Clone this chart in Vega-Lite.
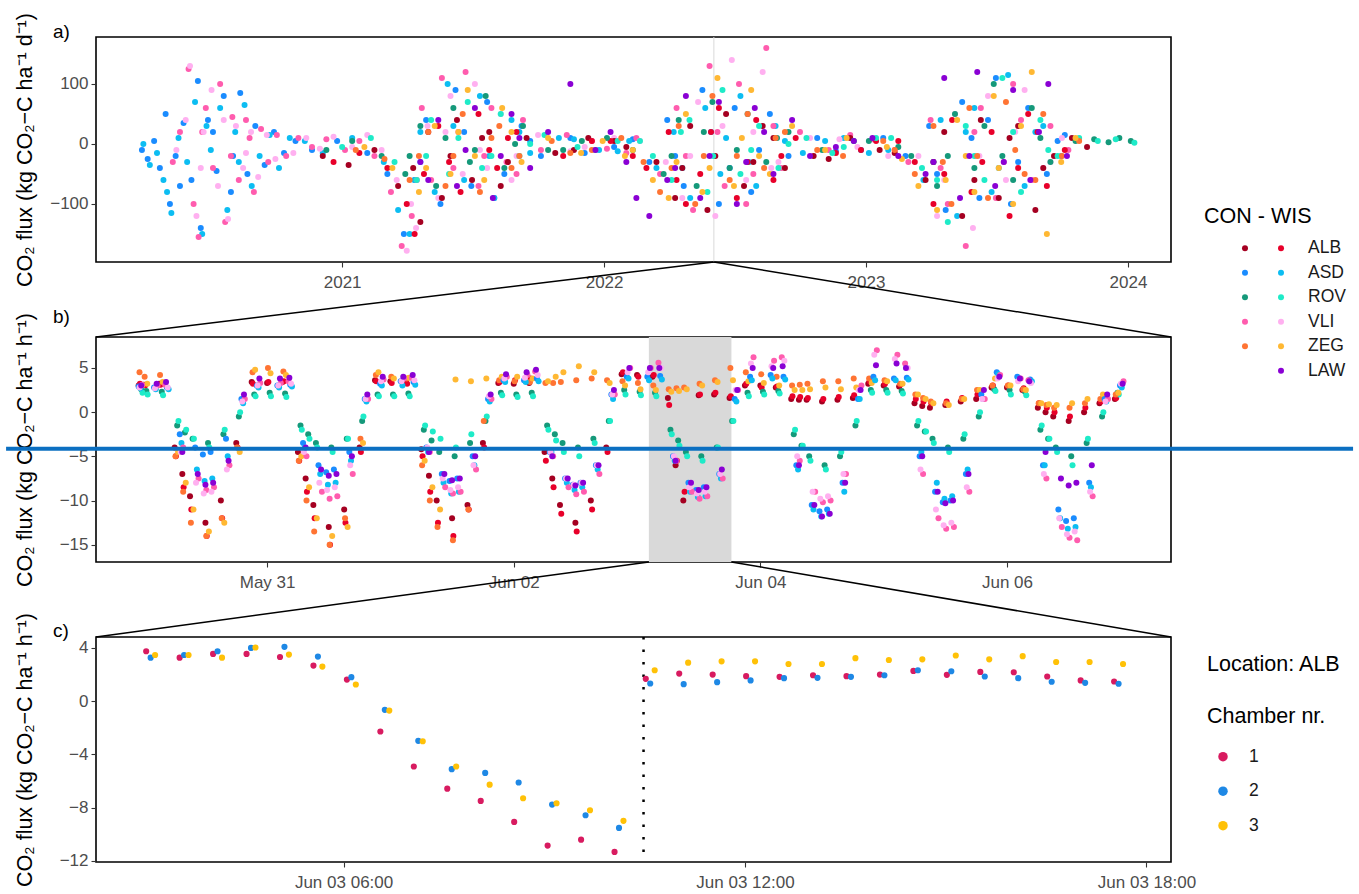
{
"$schema": "https://vega.github.io/schema/vega-lite/v6.json",
"background": "white",
"padding": {"left": 3, "top": 11, "right": 0, "bottom": 5},
"datasets": {
"fluxA": [
{"t":"2020-03-28","s":"ASD CON","v":-10},{"t":"2020-04-05","s":"ASD CON","v":-25},{"t":"2020-04-14","s":"ASD CON","v":5},{"t":"2020-04-22","s":"ASD CON","v":-40},{"t":"2020-04-30","s":"ASD CON","v":50},{"t":"2020-05-06","s":"ASD CON","v":-100},{"t":"2020-05-14","s":"ASD CON","v":-20},{"t":"2020-05-25","s":"ASD CON","v":35},{"t":"2020-06-05","s":"ASD CON","v":-60},{"t":"2020-06-14","s":"ASD CON","v":105},{"t":"2020-06-18","s":"ASD CON","v":-140},{"t":"2020-06-28","s":"ASD CON","v":40},{"t":"2020-07-10","s":"ASD CON","v":-45},{"t":"2020-07-20","s":"ASD CON","v":80},{"t":"2020-07-30","s":"ASD CON","v":-80},{"t":"2020-08-12","s":"ASD CON","v":85},{"t":"2020-08-22","s":"ASD CON","v":-50},{"t":"2020-09-02","s":"ASD CON","v":30},{"t":"2020-09-15","s":"ASD CON","v":-35},{"t":"2020-09-28","s":"ASD CON","v":20},{"t":"2020-10-12","s":"ASD CON","v":-15},{"t":"2020-10-28","s":"ASD CON","v":5},
{"t":"2020-11-20","s":"ASD CON","v":-10},{"t":"2020-12-25","s":"ASD CON","v":5},{"t":"2021-02-05","s":"ASD CON","v":-15},{"t":"2021-03-05","s":"ASD CON","v":-50},{"t":"2021-03-28","s":"ASD CON","v":-150},{"t":"2021-04-12","s":"ASD CON","v":-60},{"t":"2021-04-28","s":"ASD CON","v":40},{"t":"2021-05-18","s":"ASD CON","v":-100},{"t":"2021-06-08","s":"ASD CON","v":90},{"t":"2021-06-30","s":"ASD CON","v":-70},{"t":"2021-07-22","s":"ASD CON","v":70},{"t":"2021-08-15","s":"ASD CON","v":-50},{"t":"2021-09-08","s":"ASD CON","v":30},{"t":"2021-10-05","s":"ASD CON","v":-20},{"t":"2021-11-15","s":"ASD CON","v":10},{"t":"2022-01-15","s":"ASD CON","v":-5},{"t":"2022-03-05","s":"ASD CON","v":-30},{"t":"2022-03-30","s":"ASD CON","v":40},{"t":"2022-04-22","s":"ASD CON","v":-70},{"t":"2022-05-18","s":"ASD CON","v":90},{"t":"2022-06-10","s":"ASD CON","v":-100},{"t":"2022-07-02","s":"ASD CON","v":60},{"t":"2022-07-25","s":"ASD CON","v":-80},{"t":"2022-08-20","s":"ASD CON","v":50},{"t":"2022-09-15","s":"ASD CON","v":-20},{"t":"2022-10-25","s":"ASD CON","v":10},{"t":"2022-12-25","s":"ASD CON","v":-10},{"t":"2023-02-25","s":"ASD CON","v":-20},{"t":"2023-03-30","s":"ASD CON","v":30},{"t":"2023-04-22","s":"ASD CON","v":-110},{"t":"2023-05-15","s":"ASD CON","v":70},{"t":"2023-06-08","s":"ASD CON","v":-90},{"t":"2023-07-01","s":"ASD CON","v":110},{"t":"2023-07-22","s":"ASD CON","v":-100},{"t":"2023-08-15","s":"ASD CON","v":60},{"t":"2023-09-10","s":"ASD CON","v":-50},{"t":"2023-10-05","s":"ASD CON","v":15},
{"t":"2020-05-20","s":"ASD CON","v":-70},{"t":"2020-07-05","s":"ASD CON","v":20},{"t":"2020-08-02","s":"ASD CON","v":-20},{"t":"2021-04-20","s":"ASD CON","v":-30},{"t":"2021-06-20","s":"ASD CON","v":20},{"t":"2021-08-01","s":"ASD CON","v":-90},{"t":"2021-09-20","s":"ASD CON","v":5},{"t":"2022-04-10","s":"ASD CON","v":-20},{"t":"2022-05-30","s":"ASD CON","v":20},{"t":"2022-06-25","s":"ASD CON","v":-40},{"t":"2022-08-05","s":"ASD CON","v":-10},{"t":"2023-04-10","s":"ASD CON","v":-50},{"t":"2023-05-28","s":"ASD CON","v":10},{"t":"2023-06-20","s":"ASD CON","v":40},{"t":"2023-08-01","s":"ASD CON","v":-30},{"t":"2023-09-25","s":"ASD CON","v":5},{"t":"2021-12-05","s":"ASD CON","v":-15},{"t":"2022-02-10","s":"ASD CON","v":8},{"t":"2022-11-20","s":"ASD CON","v":-12},{"t":"2023-01-25","s":"ASD CON","v":10},
{"t":"2020-03-30","s":"ASD WIS","v":0},{"t":"2020-04-08","s":"ASD WIS","v":-35},{"t":"2020-04-18","s":"ASD WIS","v":-15},{"t":"2020-04-27","s":"ASD WIS","v":-60},{"t":"2020-05-08","s":"ASD WIS","v":-115},{"t":"2020-05-18","s":"ASD WIS","v":10},{"t":"2020-05-30","s":"ASD WIS","v":-30},{"t":"2020-06-10","s":"ASD WIS","v":70},{"t":"2020-06-20","s":"ASD WIS","v":-150},{"t":"2020-07-02","s":"ASD WIS","v":-10},{"t":"2020-07-15","s":"ASD WIS","v":60},{"t":"2020-07-25","s":"ASD WIS","v":-110},{"t":"2020-08-05","s":"ASD WIS","v":20},{"t":"2020-08-18","s":"ASD WIS","v":65},{"t":"2020-08-28","s":"ASD WIS","v":-70},{"t":"2020-09-08","s":"ASD WIS","v":-20},{"t":"2020-09-22","s":"ASD WIS","v":15},{"t":"2020-10-05","s":"ASD WIS","v":-40},{"t":"2020-10-20","s":"ASD WIS","v":10},
{"t":"2020-11-10","s":"ASD WIS","v":5},{"t":"2020-12-05","s":"ASD WIS","v":-15},{"t":"2021-01-15","s":"ASD WIS","v":10},{"t":"2021-02-28","s":"ASD WIS","v":-30},{"t":"2021-03-20","s":"ASD WIS","v":-110},{"t":"2021-04-05","s":"ASD WIS","v":-150},{"t":"2021-04-20","s":"ASD WIS","v":20},{"t":"2021-05-10","s":"ASD WIS","v":-80},{"t":"2021-05-28","s":"ASD WIS","v":100},{"t":"2021-06-20","s":"ASD WIS","v":-60},{"t":"2021-07-12","s":"ASD WIS","v":80},{"t":"2021-08-01","s":"ASD WIS","v":-90},{"t":"2021-08-25","s":"ASD WIS","v":40},{"t":"2021-09-20","s":"ASD WIS","v":-15},{"t":"2021-10-30","s":"ASD WIS","v":10},{"t":"2021-12-25","s":"ASD WIS","v":-10},{"t":"2022-02-05","s":"ASD WIS","v":5},{"t":"2022-03-15","s":"ASD WIS","v":-40},{"t":"2022-04-08","s":"ASD WIS","v":20},{"t":"2022-05-01","s":"ASD WIS","v":-90},{"t":"2022-05-22","s":"ASD WIS","v":60},{"t":"2022-06-12","s":"ASD WIS","v":-50},{"t":"2022-07-10","s":"ASD WIS","v":80},{"t":"2022-08-01","s":"ASD WIS","v":-70},{"t":"2022-08-28","s":"ASD WIS","v":30},{"t":"2022-10-05","s":"ASD WIS","v":-15},{"t":"2022-12-01","s":"ASD WIS","v":10},{"t":"2023-02-01","s":"ASD WIS","v":-10},{"t":"2023-03-22","s":"ASD WIS","v":-60},{"t":"2023-04-15","s":"ASD WIS","v":40},{"t":"2023-05-08","s":"ASD WIS","v":-120},{"t":"2023-06-01","s":"ASD WIS","v":60},{"t":"2023-06-25","s":"ASD WIS","v":-80},{"t":"2023-07-18","s":"ASD WIS","v":115},{"t":"2023-08-10","s":"ASD WIS","v":-70},{"t":"2023-09-05","s":"ASD WIS","v":30},{"t":"2023-09-30","s":"ASD WIS","v":-20},
{"t":"2020-05-02","s":"ASD WIS","v":-80},{"t":"2020-06-26","s":"ASD WIS","v":30},{"t":"2020-08-10","s":"ASD WIS","v":-30},{"t":"2021-04-12","s":"ASD WIS","v":-60},{"t":"2021-06-05","s":"ASD WIS","v":30},{"t":"2021-07-25","s":"ASD WIS","v":-20},{"t":"2021-09-05","s":"ASD WIS","v":20},{"t":"2022-04-20","s":"ASD WIS","v":-40},{"t":"2022-06-20","s":"ASD WIS","v":10},{"t":"2022-07-22","s":"ASD WIS","v":-30},{"t":"2022-09-10","s":"ASD WIS","v":5},{"t":"2023-04-05","s":"ASD WIS","v":-30},{"t":"2023-05-20","s":"ASD WIS","v":20},{"t":"2023-07-05","s":"ASD WIS","v":-40},{"t":"2023-08-25","s":"ASD WIS","v":20},{"t":"2021-11-20","s":"ASD WIS","v":8},{"t":"2022-01-20","s":"ASD WIS","v":-12},{"t":"2022-11-05","s":"ASD WIS","v":5},{"t":"2023-01-05","s":"ASD WIS","v":-15},
{"t":"2020-05-10","s":"VLI CON","v":-30},{"t":"2020-05-20","s":"VLI CON","v":20},{"t":"2020-06-01","s":"VLI CON","v":125},{"t":"2020-06-08","s":"VLI CON","v":-100},{"t":"2020-06-15","s":"VLI CON","v":-155},{"t":"2020-06-25","s":"VLI CON","v":60},{"t":"2020-07-05","s":"VLI CON","v":-40},{"t":"2020-07-15","s":"VLI CON","v":100},{"t":"2020-07-22","s":"VLI CON","v":-130},{"t":"2020-08-01","s":"VLI CON","v":45},{"t":"2020-08-10","s":"VLI CON","v":-60},{"t":"2020-08-20","s":"VLI CON","v":40},{"t":"2020-08-31","s":"VLI CON","v":-80},{"t":"2020-09-10","s":"VLI CON","v":25},{"t":"2020-09-20","s":"VLI CON","v":-30},{"t":"2020-10-02","s":"VLI CON","v":15},{"t":"2020-10-15","s":"VLI CON","v":-20},{"t":"2020-11-01","s":"VLI CON","v":10},{"t":"2020-11-20","s":"VLI CON","v":-5},{"t":"2020-12-10","s":"VLI CON","v":8},{"t":"2021-01-05","s":"VLI CON","v":-10},{"t":"2021-01-25","s":"VLI CON","v":5},
{"t":"2021-02-15","s":"VLI CON","v":-20},{"t":"2021-03-10","s":"VLI CON","v":-80},{"t":"2021-03-25","s":"VLI CON","v":-170},{"t":"2021-04-08","s":"VLI CON","v":-120},{"t":"2021-04-22","s":"VLI CON","v":60},{"t":"2021-05-05","s":"VLI CON","v":-60},{"t":"2021-05-20","s":"VLI CON","v":110},{"t":"2021-06-05","s":"VLI CON","v":-40},{"t":"2021-06-22","s":"VLI CON","v":120},{"t":"2021-07-10","s":"VLI CON","v":-70},{"t":"2021-07-28","s":"VLI CON","v":60},{"t":"2021-08-18","s":"VLI CON","v":-30},{"t":"2021-09-10","s":"VLI CON","v":40},{"t":"2021-10-05","s":"VLI CON","v":-10},{"t":"2021-11-10","s":"VLI CON","v":15},{"t":"2022-01-05","s":"VLI CON","v":-8},{"t":"2022-02-15","s":"VLI CON","v":10},{"t":"2022-03-20","s":"VLI CON","v":-50},{"t":"2022-04-12","s":"VLI CON","v":60},{"t":"2022-05-05","s":"VLI CON","v":-110},{"t":"2022-05-28","s":"VLI CON","v":130},{"t":"2022-06-18","s":"VLI CON","v":-70},{"t":"2022-07-08","s":"VLI CON","v":100},{"t":"2022-07-28","s":"VLI CON","v":-50},{"t":"2022-08-15","s":"VLI CON","v":160},{"t":"2022-09-05","s":"VLI CON","v":-40},{"t":"2022-10-01","s":"VLI CON","v":20},{"t":"2022-11-10","s":"VLI CON","v":-10},{"t":"2023-01-10","s":"VLI CON","v":8},{"t":"2023-03-01","s":"VLI CON","v":-30},{"t":"2023-04-01","s":"VLI CON","v":40},{"t":"2023-04-25","s":"VLI CON","v":-100},{"t":"2023-05-20","s":"VLI CON","v":-170},{"t":"2023-06-10","s":"VLI CON","v":60},{"t":"2023-07-01","s":"VLI CON","v":-90},{"t":"2023-07-25","s":"VLI CON","v":100},{"t":"2023-08-20","s":"VLI CON","v":-60},{"t":"2023-09-15","s":"VLI CON","v":30},{"t":"2023-10-10","s":"VLI CON","v":-10},
{"t":"2020-06-20","s":"VLI CON","v":20},{"t":"2020-07-30","s":"VLI CON","v":-20},{"t":"2020-08-25","s":"VLI CON","v":10},{"t":"2021-04-15","s":"VLI CON","v":-60},{"t":"2021-06-12","s":"VLI CON","v":20},{"t":"2021-07-18","s":"VLI CON","v":-20},{"t":"2021-09-01","s":"VLI CON","v":-50},{"t":"2022-04-25","s":"VLI CON","v":-20},{"t":"2022-06-08","s":"VLI CON","v":20},{"t":"2022-07-18","s":"VLI CON","v":-100},{"t":"2022-08-25","s":"VLI CON","v":30},{"t":"2023-04-15","s":"VLI CON","v":-40},{"t":"2023-06-01","s":"VLI CON","v":20},{"t":"2023-07-12","s":"VLI CON","v":-30},{"t":"2023-08-05","s":"VLI CON","v":40},{"t":"2021-12-15","s":"VLI CON","v":5},{"t":"2022-02-01","s":"VLI CON","v":-15},{"t":"2022-12-10","s":"VLI CON","v":15},{"t":"2023-02-10","s":"VLI CON","v":-10},
{"t":"2020-05-15","s":"VLI WIS","v":-10},{"t":"2020-05-28","s":"VLI WIS","v":40},{"t":"2020-06-03","s":"VLI WIS","v":130},{"t":"2020-06-12","s":"VLI WIS","v":-120},{"t":"2020-06-22","s":"VLI WIS","v":20},{"t":"2020-07-03","s":"VLI WIS","v":90},{"t":"2020-07-12","s":"VLI WIS","v":-70},{"t":"2020-07-26","s":"VLI WIS","v":-125},{"t":"2020-08-06","s":"VLI WIS","v":30},{"t":"2020-08-16","s":"VLI WIS","v":-40},{"t":"2020-08-27","s":"VLI WIS","v":20},{"t":"2020-09-06","s":"VLI WIS","v":-55},{"t":"2020-09-18","s":"VLI WIS","v":15},{"t":"2020-09-30","s":"VLI WIS","v":-25},{"t":"2020-10-25","s":"VLI WIS","v":-15},{"t":"2020-11-12","s":"VLI WIS","v":10},{"t":"2020-12-01","s":"VLI WIS","v":-8},{"t":"2020-12-20","s":"VLI WIS","v":12},{"t":"2021-01-15","s":"VLI WIS","v":-5},{"t":"2021-02-05","s":"VLI WIS","v":15},
{"t":"2021-02-25","s":"VLI WIS","v":-10},{"t":"2021-03-18","s":"VLI WIS","v":-60},{"t":"2021-04-01","s":"VLI WIS","v":-178},{"t":"2021-04-14","s":"VLI WIS","v":-140},{"t":"2021-04-30","s":"VLI WIS","v":30},{"t":"2021-05-15","s":"VLI WIS","v":-90},{"t":"2021-06-01","s":"VLI WIS","v":80},{"t":"2021-06-18","s":"VLI WIS","v":-50},{"t":"2021-07-05","s":"VLI WIS","v":100},{"t":"2021-07-22","s":"VLI WIS","v":-40},{"t":"2021-08-10","s":"VLI WIS","v":50},{"t":"2021-09-01","s":"VLI WIS","v":-20},{"t":"2021-10-01","s":"VLI WIS","v":15},{"t":"2021-12-05","s":"VLI WIS","v":-5},{"t":"2022-02-20","s":"VLI WIS","v":5},{"t":"2022-03-28","s":"VLI WIS","v":-30},{"t":"2022-04-20","s":"VLI WIS","v":-90},{"t":"2022-05-12","s":"VLI WIS","v":70},{"t":"2022-06-05","s":"VLI WIS","v":-120},{"t":"2022-06-28","s":"VLI WIS","v":140},{"t":"2022-07-18","s":"VLI WIS","v":-60},{"t":"2022-08-10","s":"VLI WIS","v":120},{"t":"2022-09-01","s":"VLI WIS","v":-30},{"t":"2022-10-15","s":"VLI WIS","v":10},{"t":"2022-12-20","s":"VLI WIS","v":-5},{"t":"2023-03-15","s":"VLI WIS","v":-20},{"t":"2023-04-10","s":"VLI WIS","v":-120},{"t":"2023-05-05","s":"VLI WIS","v":50},{"t":"2023-05-30","s":"VLI WIS","v":-140},{"t":"2023-06-20","s":"VLI WIS","v":80},{"t":"2023-07-15","s":"VLI WIS","v":-60},{"t":"2023-08-10","s":"VLI WIS","v":90},{"t":"2023-09-05","s":"VLI WIS","v":-40},{"t":"2023-10-01","s":"VLI WIS","v":10},
{"t":"2020-06-18","s":"VLI WIS","v":-40},{"t":"2020-07-20","s":"VLI WIS","v":40},{"t":"2020-08-20","s":"VLI WIS","v":-15},{"t":"2021-04-07","s":"VLI WIS","v":-100},{"t":"2021-05-25","s":"VLI WIS","v":20},{"t":"2021-07-12","s":"VLI WIS","v":-10},{"t":"2021-08-25","s":"VLI WIS","v":-60},{"t":"2022-05-01","s":"VLI WIS","v":-20},{"t":"2022-06-15","s":"VLI WIS","v":30},{"t":"2022-07-28","s":"VLI WIS","v":20},{"t":"2022-08-22","s":"VLI WIS","v":-40},{"t":"2023-04-20","s":"VLI WIS","v":-60},{"t":"2023-06-08","s":"VLI WIS","v":-20},{"t":"2023-07-28","s":"VLI WIS","v":20},{"t":"2023-09-15","s":"VLI WIS","v":-30},{"t":"2021-11-15","s":"VLI WIS","v":-12},{"t":"2022-01-15","s":"VLI WIS","v":10},{"t":"2022-11-25","s":"VLI WIS","v":8},{"t":"2023-02-01","s":"VLI WIS","v":-20},
{"t":"2020-12-05","s":"ALB CON","v":-20},{"t":"2021-01-10","s":"ALB CON","v":-35},{"t":"2021-02-15","s":"ALB CON","v":-10},{"t":"2021-03-20","s":"ALB CON","v":-70},{"t":"2021-04-10","s":"ALB CON","v":-40},{"t":"2021-05-01","s":"ALB CON","v":20},{"t":"2021-05-20","s":"ALB CON","v":-90},{"t":"2021-06-10","s":"ALB CON","v":40},{"t":"2021-07-01","s":"ALB CON","v":-60},{"t":"2021-07-25","s":"ALB CON","v":20},{"t":"2021-08-20","s":"ALB CON","v":-30},{"t":"2021-09-15","s":"ALB CON","v":10},{"t":"2021-10-25","s":"ALB CON","v":-15},{"t":"2021-12-10","s":"ALB CON","v":10},{"t":"2022-02-01","s":"ALB CON","v":-5},{"t":"2022-03-15","s":"ALB CON","v":-30},{"t":"2022-04-10","s":"ALB CON","v":-90},{"t":"2022-05-01","s":"ALB CON","v":30},{"t":"2022-05-25","s":"ALB CON","v":-110},{"t":"2022-06-20","s":"ALB CON","v":50},{"t":"2022-07-15","s":"ALB CON","v":-70},{"t":"2022-08-10","s":"ALB CON","v":30},{"t":"2022-09-10","s":"ALB CON","v":-40},{"t":"2022-10-20","s":"ALB CON","v":-20},{"t":"2022-12-10","s":"ALB CON","v":10},{"t":"2023-02-10","s":"ALB CON","v":-15},{"t":"2023-03-25","s":"ALB CON","v":-60},{"t":"2023-04-20","s":"ALB CON","v":20},{"t":"2023-05-15","s":"ALB CON","v":-120},{"t":"2023-06-10","s":"ALB CON","v":40},{"t":"2023-07-05","s":"ALB CON","v":-90},{"t":"2023-08-01","s":"ALB CON","v":30},{"t":"2023-08-25","s":"ALB CON","v":-110},{"t":"2023-09-20","s":"ALB CON","v":-20},{"t":"2023-10-15","s":"ALB CON","v":10},{"t":"2023-11-05","s":"ALB CON","v":-5},
{"t":"2021-04-20","s":"ALB CON","v":-130},{"t":"2021-06-01","s":"ALB CON","v":-20},{"t":"2021-07-15","s":"ALB CON","v":10},{"t":"2021-08-10","s":"ALB CON","v":-70},{"t":"2022-04-20","s":"ALB CON","v":-40},{"t":"2022-06-05","s":"ALB CON","v":-20},{"t":"2022-07-28","s":"ALB CON","v":-30},{"t":"2022-08-25","s":"ALB CON","v":10},{"t":"2023-04-05","s":"ALB CON","v":-30},{"t":"2023-06-01","s":"ALB CON","v":-60},{"t":"2023-07-20","s":"ALB CON","v":10},{"t":"2023-09-05","s":"ALB CON","v":-40},{"t":"2021-11-20","s":"ALB CON","v":-10},{"t":"2022-01-15","s":"ALB CON","v":5},{"t":"2022-11-10","s":"ALB CON","v":-25},{"t":"2023-01-20","s":"ALB CON","v":-10},
{"t":"2020-12-20","s":"ALB WIS","v":-30},{"t":"2021-01-25","s":"ALB WIS","v":-15},{"t":"2021-03-05","s":"ALB WIS","v":-40},{"t":"2021-04-01","s":"ALB WIS","v":-100},{"t":"2021-04-25","s":"ALB WIS","v":-50},{"t":"2021-05-15","s":"ALB WIS","v":30},{"t":"2021-06-15","s":"ALB WIS","v":-80},{"t":"2021-07-10","s":"ALB WIS","v":50},{"t":"2021-08-05","s":"ALB WIS","v":-40},{"t":"2021-09-01","s":"ALB WIS","v":20},{"t":"2021-11-05","s":"ALB WIS","v":-20},{"t":"2022-01-10","s":"ALB WIS","v":5},{"t":"2022-03-01","s":"ALB WIS","v":-40},{"t":"2022-04-01","s":"ALB WIS","v":20},{"t":"2022-04-25","s":"ALB WIS","v":-100},{"t":"2022-05-15","s":"ALB WIS","v":-50},{"t":"2022-06-10","s":"ALB WIS","v":60},{"t":"2022-07-05","s":"ALB WIS","v":-90},{"t":"2022-08-01","s":"ALB WIS","v":40},{"t":"2022-08-25","s":"ALB WIS","v":-60},{"t":"2022-09-25","s":"ALB WIS","v":10},{"t":"2022-11-20","s":"ALB WIS","v":-15},{"t":"2023-01-15","s":"ALB WIS","v":5},{"t":"2023-03-10","s":"ALB WIS","v":-30},{"t":"2023-04-05","s":"ALB WIS","v":-100},{"t":"2023-05-01","s":"ALB WIS","v":40},{"t":"2023-05-28","s":"ALB WIS","v":-80},{"t":"2023-06-25","s":"ALB WIS","v":20},{"t":"2023-07-20","s":"ALB WIS","v":-120},{"t":"2023-08-15","s":"ALB WIS","v":50},{"t":"2023-09-10","s":"ALB WIS","v":-70},{"t":"2023-10-05","s":"ALB WIS","v":-10},
{"t":"2021-04-12","s":"ALB WIS","v":-150},{"t":"2021-05-30","s":"ALB WIS","v":-30},{"t":"2021-07-25","s":"ALB WIS","v":-10},{"t":"2021-08-20","s":"ALB WIS","v":10},{"t":"2022-04-12","s":"ALB WIS","v":-60},{"t":"2022-05-30","s":"ALB WIS","v":20},{"t":"2022-07-20","s":"ALB WIS","v":-30},{"t":"2022-09-05","s":"ALB WIS","v":-20},{"t":"2023-04-20","s":"ALB WIS","v":-50},{"t":"2023-06-12","s":"ALB WIS","v":-30},{"t":"2023-08-01","s":"ALB WIS","v":-40},{"t":"2023-08-28","s":"ALB WIS","v":20},{"t":"2021-12-15","s":"ALB WIS","v":5},{"t":"2022-02-10","s":"ALB WIS","v":-20},{"t":"2022-12-25","s":"ALB WIS","v":-10},{"t":"2023-02-15","s":"ALB WIS","v":5},
{"t":"2020-12-10","s":"ROV CON","v":-10},{"t":"2021-01-15","s":"ROV CON","v":5},{"t":"2021-02-25","s":"ROV CON","v":-20},{"t":"2021-03-30","s":"ROV CON","v":-50},{"t":"2021-04-20","s":"ROV CON","v":30},{"t":"2021-05-12","s":"ROV CON","v":-70},{"t":"2021-06-05","s":"ROV CON","v":60},{"t":"2021-06-28","s":"ROV CON","v":-30},{"t":"2021-07-20","s":"ROV CON","v":80},{"t":"2021-08-15","s":"ROV CON","v":-40},{"t":"2021-09-10","s":"ROV CON","v":30},{"t":"2021-10-15","s":"ROV CON","v":-10},{"t":"2021-12-01","s":"ROV CON","v":5},{"t":"2022-02-10","s":"ROV CON","v":-10},{"t":"2022-03-25","s":"ROV CON","v":-50},{"t":"2022-04-15","s":"ROV CON","v":40},{"t":"2022-05-10","s":"ROV CON","v":-70},{"t":"2022-06-01","s":"ROV CON","v":70},{"t":"2022-06-25","s":"ROV CON","v":-40},{"t":"2022-07-20","s":"ROV CON","v":50},{"t":"2022-08-15","s":"ROV CON","v":-30},{"t":"2022-09-15","s":"ROV CON","v":20},{"t":"2022-11-01","s":"ROV CON","v":-10},{"t":"2023-01-05","s":"ROV CON","v":5},{"t":"2023-03-05","s":"ROV CON","v":-20},{"t":"2023-04-10","s":"ROV CON","v":-70},{"t":"2023-05-05","s":"ROV CON","v":50},{"t":"2023-06-01","s":"ROV CON","v":-40},{"t":"2023-06-28","s":"ROV CON","v":100},{"t":"2023-07-25","s":"ROV CON","v":-60},{"t":"2023-08-20","s":"ROV CON","v":60},{"t":"2023-09-15","s":"ROV CON","v":-30},{"t":"2023-10-20","s":"ROV CON","v":5},{"t":"2023-11-15","s":"ROV CON","v":8},{"t":"2023-12-05","s":"ROV CON","v":3},{"t":"2023-12-20","s":"ROV CON","v":10},{"t":"2024-01-05","s":"ROV CON","v":5},
{"t":"2021-04-05","s":"ROV CON","v":-20},{"t":"2021-05-25","s":"ROV CON","v":10},{"t":"2021-07-05","s":"ROV CON","v":-10},{"t":"2021-08-30","s":"ROV CON","v":0},{"t":"2022-04-05","s":"ROV CON","v":-20},{"t":"2022-05-20","s":"ROV CON","v":20},{"t":"2022-07-05","s":"ROV CON","v":-10},{"t":"2022-08-30","s":"ROV CON","v":10},{"t":"2023-04-25","s":"ROV CON","v":-20},{"t":"2023-06-15","s":"ROV CON","v":30},{"t":"2023-07-10","s":"ROV CON","v":-20},{"t":"2023-09-01","s":"ROV CON","v":10},{"t":"2021-11-05","s":"ROV CON","v":-10},{"t":"2022-01-05","s":"ROV CON","v":10},{"t":"2022-12-15","s":"ROV CON","v":5},{"t":"2023-02-15","s":"ROV CON","v":-5},
{"t":"2021-01-01","s":"ROV WIS","v":-5},{"t":"2021-02-10","s":"ROV WIS","v":10},{"t":"2021-03-15","s":"ROV WIS","v":-30},{"t":"2021-04-15","s":"ROV WIS","v":-60},{"t":"2021-05-05","s":"ROV WIS","v":40},{"t":"2021-05-30","s":"ROV WIS","v":-50},{"t":"2021-06-25","s":"ROV WIS","v":70},{"t":"2021-07-15","s":"ROV WIS","v":-40},{"t":"2021-08-10","s":"ROV WIS","v":50},{"t":"2021-09-05","s":"ROV WIS","v":-20},{"t":"2021-10-10","s":"ROV WIS","v":15},{"t":"2021-11-25","s":"ROV WIS","v":-5},{"t":"2022-01-20","s":"ROV WIS","v":5},{"t":"2022-03-10","s":"ROV WIS","v":-20},{"t":"2022-04-05","s":"ROV WIS","v":-60},{"t":"2022-04-30","s":"ROV WIS","v":40},{"t":"2022-05-25","s":"ROV WIS","v":-80},{"t":"2022-06-15","s":"ROV WIS","v":90},{"t":"2022-07-10","s":"ROV WIS","v":-50},{"t":"2022-08-05","s":"ROV WIS","v":30},{"t":"2022-09-01","s":"ROV WIS","v":-40},{"t":"2022-10-10","s":"ROV WIS","v":10},{"t":"2022-12-01","s":"ROV WIS","v":-5},{"t":"2023-02-05","s":"ROV WIS","v":10},{"t":"2023-03-20","s":"ROV WIS","v":-40},{"t":"2023-04-25","s":"ROV WIS","v":-130},{"t":"2023-05-20","s":"ROV WIS","v":30},{"t":"2023-06-15","s":"ROV WIS","v":-60},{"t":"2023-07-10","s":"ROV WIS","v":110},{"t":"2023-08-05","s":"ROV WIS","v":-80},{"t":"2023-09-01","s":"ROV WIS","v":40},{"t":"2023-09-25","s":"ROV WIS","v":-20},{"t":"2023-10-25","s":"ROV WIS","v":10},{"t":"2023-11-20","s":"ROV WIS","v":5},{"t":"2023-12-15","s":"ROV WIS","v":8},{"t":"2024-01-10","s":"ROV WIS","v":2},
{"t":"2021-04-28","s":"ROV WIS","v":-20},{"t":"2021-06-12","s":"ROV WIS","v":10},{"t":"2021-07-28","s":"ROV WIS","v":-20},{"t":"2021-09-20","s":"ROV WIS","v":0},{"t":"2022-04-18","s":"ROV WIS","v":20},{"t":"2022-06-02","s":"ROV WIS","v":-20},{"t":"2022-07-25","s":"ROV WIS","v":-10},{"t":"2022-09-15","s":"ROV WIS","v":0},{"t":"2023-04-10","s":"ROV WIS","v":-60},{"t":"2023-06-01","s":"ROV WIS","v":-20},{"t":"2023-07-25","s":"ROV WIS","v":20},{"t":"2023-09-12","s":"ROV WIS","v":-10},{"t":"2021-12-20","s":"ROV WIS","v":-10},{"t":"2022-02-20","s":"ROV WIS","v":5},{"t":"2022-11-15","s":"ROV WIS","v":-15},{"t":"2023-01-15","s":"ROV WIS","v":10},
{"t":"2021-01-20","s":"ZEG CON","v":-10},{"t":"2021-03-01","s":"ZEG CON","v":-25},{"t":"2021-04-05","s":"ZEG CON","v":-60},{"t":"2021-05-01","s":"ZEG CON","v":20},{"t":"2021-05-25","s":"ZEG CON","v":-70},{"t":"2021-06-18","s":"ZEG CON","v":50},{"t":"2021-07-12","s":"ZEG CON","v":-80},{"t":"2021-08-08","s":"ZEG CON","v":30},{"t":"2021-09-05","s":"ZEG CON","v":-20},{"t":"2021-10-20","s":"ZEG CON","v":5},{"t":"2021-12-15","s":"ZEG CON","v":-10},{"t":"2022-02-25","s":"ZEG CON","v":-30},{"t":"2022-03-20","s":"ZEG CON","v":-80},{"t":"2022-04-15","s":"ZEG CON","v":30},{"t":"2022-05-08","s":"ZEG CON","v":-100},{"t":"2022-06-01","s":"ZEG CON","v":80},{"t":"2022-06-25","s":"ZEG CON","v":-60},{"t":"2022-07-20","s":"ZEG CON","v":50},{"t":"2022-08-12","s":"ZEG CON","v":-40},{"t":"2022-09-10","s":"ZEG CON","v":20},{"t":"2022-10-25","s":"ZEG CON","v":-10},{"t":"2023-01-25","s":"ZEG CON","v":5},{"t":"2023-03-10","s":"ZEG CON","v":-50},{"t":"2023-04-05","s":"ZEG CON","v":30},{"t":"2023-04-30","s":"ZEG CON","v":-100},{"t":"2023-05-25","s":"ZEG CON","v":60},{"t":"2023-06-20","s":"ZEG CON","v":-90},{"t":"2023-07-15","s":"ZEG CON","v":70},{"t":"2023-08-10","s":"ZEG CON","v":-50},{"t":"2023-09-05","s":"ZEG CON","v":50},{"t":"2023-10-01","s":"ZEG CON","v":-20},{"t":"2023-10-25","s":"ZEG CON","v":5},
{"t":"2021-04-18","s":"ZEG CON","v":-20},{"t":"2021-06-05","s":"ZEG CON","v":-20},{"t":"2021-07-28","s":"ZEG CON","v":10},{"t":"2021-08-25","s":"ZEG CON","v":-40},{"t":"2022-04-05","s":"ZEG CON","v":-40},{"t":"2022-05-20","s":"ZEG CON","v":-20},{"t":"2022-07-05","s":"ZEG CON","v":-20},{"t":"2022-08-28","s":"ZEG CON","v":10},{"t":"2023-04-18","s":"ZEG CON","v":-30},{"t":"2023-06-05","s":"ZEG CON","v":-20},{"t":"2023-07-28","s":"ZEG CON","v":-10},{"t":"2023-08-25","s":"ZEG CON","v":-60},{"t":"2021-11-15","s":"ZEG CON","v":-15},{"t":"2022-01-25","s":"ZEG CON","v":10},{"t":"2022-11-30","s":"ZEG CON","v":-20},{"t":"2023-02-10","s":"ZEG CON","v":-10},
{"t":"2021-02-01","s":"ZEG WIS","v":-5},{"t":"2021-03-12","s":"ZEG WIS","v":-40},{"t":"2021-04-18","s":"ZEG WIS","v":-80},{"t":"2021-05-10","s":"ZEG WIS","v":30},{"t":"2021-06-01","s":"ZEG WIS","v":-50},{"t":"2021-06-25","s":"ZEG WIS","v":90},{"t":"2021-07-18","s":"ZEG WIS","v":-60},{"t":"2021-08-12","s":"ZEG WIS","v":60},{"t":"2021-09-08","s":"ZEG WIS","v":-30},{"t":"2021-10-15","s":"ZEG WIS","v":10},{"t":"2021-11-30","s":"ZEG WIS","v":-15},{"t":"2022-02-10","s":"ZEG WIS","v":-10},{"t":"2022-03-10","s":"ZEG WIS","v":-60},{"t":"2022-04-01","s":"ZEG WIS","v":-90},{"t":"2022-04-25","s":"ZEG WIS","v":50},{"t":"2022-05-18","s":"ZEG WIS","v":-80},{"t":"2022-06-08","s":"ZEG WIS","v":110},{"t":"2022-07-01","s":"ZEG WIS","v":-70},{"t":"2022-07-25","s":"ZEG WIS","v":90},{"t":"2022-08-20","s":"ZEG WIS","v":-50},{"t":"2022-09-20","s":"ZEG WIS","v":30},{"t":"2022-11-05","s":"ZEG WIS","v":-10},{"t":"2023-01-30","s":"ZEG WIS","v":-5},{"t":"2023-03-15","s":"ZEG WIS","v":-70},{"t":"2023-04-10","s":"ZEG WIS","v":-110},{"t":"2023-05-08","s":"ZEG WIS","v":40},{"t":"2023-06-01","s":"ZEG WIS","v":-80},{"t":"2023-06-28","s":"ZEG WIS","v":80},{"t":"2023-07-25","s":"ZEG WIS","v":-100},{"t":"2023-08-20","s":"ZEG WIS","v":120},{"t":"2023-09-10","s":"ZEG WIS","v":-150},{"t":"2023-09-30","s":"ZEG WIS","v":-30},{"t":"2023-10-20","s":"ZEG WIS","v":10},
{"t":"2021-04-28","s":"ZEG WIS","v":-40},{"t":"2021-06-12","s":"ZEG WIS","v":20},{"t":"2021-07-05","s":"ZEG WIS","v":-20},{"t":"2021-08-25","s":"ZEG WIS","v":20},{"t":"2022-04-12","s":"ZEG WIS","v":-30},{"t":"2022-05-28","s":"ZEG WIS","v":-40},{"t":"2022-07-12","s":"ZEG WIS","v":10},{"t":"2022-08-05","s":"ZEG WIS","v":-20},{"t":"2023-04-22","s":"ZEG WIS","v":-60},{"t":"2023-05-20","s":"ZEG WIS","v":-20},{"t":"2023-07-05","s":"ZEG WIS","v":-40},{"t":"2023-08-05","s":"ZEG WIS","v":30},{"t":"2021-12-30","s":"ZEG WIS","v":5},{"t":"2022-01-30","s":"ZEG WIS","v":-20},{"t":"2022-12-05","s":"ZEG WIS","v":10},{"t":"2023-02-20","s":"ZEG WIS","v":-25},
{"t":"2021-04-20","s":"LAW WIS","v":-30},{"t":"2021-05-15","s":"LAW WIS","v":40},{"t":"2021-06-10","s":"LAW WIS","v":-70},{"t":"2021-07-05","s":"LAW WIS","v":60},{"t":"2021-07-30","s":"LAW WIS","v":-90},{"t":"2021-08-25","s":"LAW WIS","v":50},{"t":"2021-09-20","s":"LAW WIS","v":-40},{"t":"2021-10-15","s":"LAW WIS","v":20},{"t":"2021-11-15","s":"LAW WIS","v":100},{"t":"2021-12-20","s":"LAW WIS","v":-10},{"t":"2022-02-15","s":"LAW WIS","v":-90},{"t":"2022-03-05","s":"LAW WIS","v":-120},{"t":"2022-03-30","s":"LAW WIS","v":-60},{"t":"2022-04-25","s":"LAW WIS","v":80},{"t":"2022-05-15","s":"LAW WIS","v":-90},{"t":"2022-06-10","s":"LAW WIS","v":70},{"t":"2022-07-05","s":"LAW WIS","v":-100},{"t":"2022-07-30","s":"LAW WIS","v":60},{"t":"2022-08-25","s":"LAW WIS","v":-50},{"t":"2022-09-20","s":"LAW WIS","v":40},{"t":"2022-10-15","s":"LAW WIS","v":-20},{"t":"2022-12-15","s":"LAW WIS","v":5},{"t":"2023-02-15","s":"LAW WIS","v":-20},{"t":"2023-03-25","s":"LAW WIS","v":-50},{"t":"2023-04-20","s":"LAW WIS","v":110},{"t":"2023-05-12","s":"LAW WIS","v":-90},{"t":"2023-06-05","s":"LAW WIS","v":120},{"t":"2023-06-30","s":"LAW WIS","v":-70},{"t":"2023-07-25","s":"LAW WIS","v":90},{"t":"2023-08-18","s":"LAW WIS","v":-60},{"t":"2023-09-12","s":"LAW WIS","v":100},{"t":"2023-10-08","s":"LAW WIS","v":-20},
{"t":"2021-05-01","s":"LAW WIS","v":-60},{"t":"2021-06-22","s":"LAW WIS","v":-10},{"t":"2021-08-10","s":"LAW WIS","v":-20},{"t":"2021-09-05","s":"LAW WIS","v":10},{"t":"2022-04-10","s":"LAW WIS","v":-40},{"t":"2022-05-28","s":"LAW WIS","v":-20},{"t":"2022-07-18","s":"LAW WIS","v":-30},{"t":"2022-08-12","s":"LAW WIS","v":20},{"t":"2023-04-05","s":"LAW WIS","v":-30},{"t":"2023-05-25","s":"LAW WIS","v":-20},{"t":"2023-07-12","s":"LAW WIS","v":-30},{"t":"2023-08-30","s":"LAW WIS","v":20},{"t":"2022-01-10","s":"LAW WIS","v":20},{"t":"2022-02-01","s":"LAW WIS","v":-30},{"t":"2022-11-20","s":"LAW WIS","v":-5},{"t":"2023-01-10","s":"LAW WIS","v":10}
],
"fluxB": [
{"t":"2022-05-29T23:00","s":"ALB CON","v":3.0},
{"t":"2022-05-30T00:00","s":"ALB CON","v":3.1},{"t":"2022-05-30T06:00","s":"ALB CON","v":-4.0},{"t":"2022-05-30T09:00","s":"ALB CON","v":-9.5},{"t":"2022-05-30T12:00","s":"ALB CON","v":-12.5},{"t":"2022-05-30T15:00","s":"ALB CON","v":-10.0},{"t":"2022-05-30T18:00","s":"ALB CON","v":-3.5},{"t":"2022-05-30T21:00","s":"ALB CON","v":3.4},
{"t":"2022-05-31T00:00","s":"ALB CON","v":3.3},{"t":"2022-05-31T06:00","s":"ALB CON","v":-4.5},{"t":"2022-05-31T09:00","s":"ALB CON","v":-10.5},{"t":"2022-05-31T12:00","s":"ALB CON","v":-13.0},{"t":"2022-05-31T15:00","s":"ALB CON","v":-11.0},{"t":"2022-05-31T18:00","s":"ALB CON","v":-4.0},{"t":"2022-05-31T21:00","s":"ALB CON","v":3.6},
{"t":"2022-06-01T00:00","s":"ALB CON","v":3.5},{"t":"2022-06-01T06:00","s":"ALB CON","v":-4.2},{"t":"2022-06-01T09:00","s":"ALB CON","v":-10.0},{"t":"2022-06-01T12:00","s":"ALB CON","v":-12.0},{"t":"2022-06-01T15:00","s":"ALB CON","v":-10.5},{"t":"2022-06-01T18:00","s":"ALB CON","v":-3.5},{"t":"2022-06-01T21:00","s":"ALB CON","v":3.3},
{"t":"2022-06-02T00:00","s":"ALB CON","v":3.2},{"t":"2022-06-02T06:00","s":"ALB CON","v":-4.5},{"t":"2022-06-02T09:00","s":"ALB CON","v":-10.5},{"t":"2022-06-02T12:00","s":"ALB CON","v":-12.5},{"t":"2022-06-02T15:00","s":"ALB CON","v":-10.0},{"t":"2022-06-02T18:00","s":"ALB CON","v":-4.0},{"t":"2022-06-02T21:00","s":"ALB CON","v":4.3},
{"t":"2022-06-03T00:00","s":"ALB CON","v":4.2},{"t":"2022-06-03T06:00","s":"ALB CON","v":1.6},{"t":"2022-06-03T09:00","s":"ALB CON","v":-10.0},{"t":"2022-06-03T12:00","s":"ALB CON","v":1.9},{"t":"2022-06-03T15:00","s":"ALB CON","v":2.0},{"t":"2022-06-03T18:00","s":"ALB CON","v":1.6},{"t":"2022-06-03T21:00","s":"ALB CON","v":3.0},
{"t":"2022-06-04T00:00","s":"ALB CON","v":3.0},{"t":"2022-06-04T06:00","s":"ALB CON","v":1.5},{"t":"2022-06-04T09:00","s":"ALB CON","v":1.4},{"t":"2022-06-04T12:00","s":"ALB CON","v":1.2},{"t":"2022-06-04T15:00","s":"ALB CON","v":1.4},{"t":"2022-06-04T18:00","s":"ALB CON","v":1.6},{"t":"2022-06-04T21:00","s":"ALB CON","v":3.2},
{"t":"2022-06-05T00:00","s":"ALB CON","v":3.0},{"t":"2022-06-05T06:00","s":"ALB CON","v":1.0},{"t":"2022-06-05T09:00","s":"ALB CON","v":0.5},{"t":"2022-06-05T12:00","s":"ALB CON","v":0.8},{"t":"2022-06-05T15:00","s":"ALB CON","v":1.2},{"t":"2022-06-05T18:00","s":"ALB CON","v":1.5},{"t":"2022-06-05T21:00","s":"ALB CON","v":2.8},
{"t":"2022-06-06T00:00","s":"ALB CON","v":2.8},{"t":"2022-06-06T06:00","s":"ALB CON","v":0.5},{"t":"2022-06-06T09:00","s":"ALB CON","v":-0.5},{"t":"2022-06-06T12:00","s":"ALB CON","v":-1.0},{"t":"2022-06-06T15:00","s":"ALB CON","v":0.0},{"t":"2022-06-06T18:00","s":"ALB CON","v":1.0},{"t":"2022-06-06T21:00","s":"ALB CON","v":1.5},
{"t":"2022-05-30T03:00","s":"ALB CON","v":3.2},{"t":"2022-05-31T03:00","s":"ALB CON","v":3.4},{"t":"2022-06-01T03:00","s":"ALB CON","v":3.4},{"t":"2022-06-02T03:00","s":"ALB CON","v":3.3},{"t":"2022-06-03T03:00","s":"ALB CON","v":4.0},{"t":"2022-06-04T03:00","s":"ALB CON","v":2.8},{"t":"2022-06-05T03:00","s":"ALB CON","v":2.9},{"t":"2022-06-06T03:00","s":"ALB CON","v":2.5},
{"t":"2022-05-30T07:30","s":"ALB CON","v":-7.0},{"t":"2022-05-31T07:30","s":"ALB CON","v":-7.5},{"t":"2022-06-01T07:30","s":"ALB CON","v":-7.2},{"t":"2022-06-02T07:30","s":"ALB CON","v":-7.5},{"t":"2022-06-03T07:30","s":"ALB CON","v":-6.0},{"t":"2022-06-04T07:30","s":"ALB CON","v":1.4},{"t":"2022-06-05T07:30","s":"ALB CON","v":0.7},{"t":"2022-06-06T07:30","s":"ALB CON","v":0.0},
{"t":"2022-05-29T23:15","s":"ALB WIS","v":3.2},
{"t":"2022-05-30T00:15","s":"ALB WIS","v":3.0},{"t":"2022-05-30T06:15","s":"ALB WIS","v":-5.0},{"t":"2022-05-30T09:15","s":"ALB WIS","v":-11.0},{"t":"2022-05-30T12:15","s":"ALB WIS","v":-14.0},{"t":"2022-05-30T15:15","s":"ALB WIS","v":-12.0},{"t":"2022-05-30T18:15","s":"ALB WIS","v":-4.0},{"t":"2022-05-30T21:15","s":"ALB WIS","v":3.2},
{"t":"2022-05-31T00:15","s":"ALB WIS","v":3.4},{"t":"2022-05-31T06:15","s":"ALB WIS","v":-5.5},{"t":"2022-05-31T09:15","s":"ALB WIS","v":-12.0},{"t":"2022-05-31T12:15","s":"ALB WIS","v":-15.0},{"t":"2022-05-31T15:15","s":"ALB WIS","v":-12.5},{"t":"2022-05-31T18:15","s":"ALB WIS","v":-4.5},{"t":"2022-05-31T21:15","s":"ALB WIS","v":3.5},
{"t":"2022-06-01T00:15","s":"ALB WIS","v":3.3},{"t":"2022-06-01T06:15","s":"ALB WIS","v":-5.0},{"t":"2022-06-01T09:15","s":"ALB WIS","v":-12.5},{"t":"2022-06-01T12:15","s":"ALB WIS","v":-14.0},{"t":"2022-06-01T15:15","s":"ALB WIS","v":-11.0},{"t":"2022-06-01T18:15","s":"ALB WIS","v":-4.0},{"t":"2022-06-01T21:15","s":"ALB WIS","v":3.4},
{"t":"2022-06-02T00:15","s":"ALB WIS","v":3.6},{"t":"2022-06-02T06:15","s":"ALB WIS","v":-5.5},{"t":"2022-06-02T09:15","s":"ALB WIS","v":-11.5},{"t":"2022-06-02T12:15","s":"ALB WIS","v":-13.5},{"t":"2022-06-02T15:15","s":"ALB WIS","v":-11.0},{"t":"2022-06-02T18:15","s":"ALB WIS","v":-4.5},{"t":"2022-06-02T21:15","s":"ALB WIS","v":4.5},
{"t":"2022-06-03T00:15","s":"ALB WIS","v":4.0},{"t":"2022-06-03T06:15","s":"ALB WIS","v":0.8},{"t":"2022-06-03T09:15","s":"ALB WIS","v":-9.0},{"t":"2022-06-03T12:15","s":"ALB WIS","v":2.0},{"t":"2022-06-03T15:15","s":"ALB WIS","v":2.2},{"t":"2022-06-03T18:15","s":"ALB WIS","v":1.8},{"t":"2022-06-03T21:15","s":"ALB WIS","v":3.2},
{"t":"2022-06-04T00:15","s":"ALB WIS","v":2.8},{"t":"2022-06-04T06:15","s":"ALB WIS","v":1.8},{"t":"2022-06-04T09:15","s":"ALB WIS","v":1.6},{"t":"2022-06-04T12:15","s":"ALB WIS","v":1.5},{"t":"2022-06-04T15:15","s":"ALB WIS","v":1.7},{"t":"2022-06-04T18:15","s":"ALB WIS","v":1.9},{"t":"2022-06-04T21:15","s":"ALB WIS","v":3.5},
{"t":"2022-06-05T00:15","s":"ALB WIS","v":3.2},{"t":"2022-06-05T06:15","s":"ALB WIS","v":1.5},{"t":"2022-06-05T09:15","s":"ALB WIS","v":1.0},{"t":"2022-06-05T12:15","s":"ALB WIS","v":1.2},{"t":"2022-06-05T15:15","s":"ALB WIS","v":1.6},{"t":"2022-06-05T18:15","s":"ALB WIS","v":2.0},{"t":"2022-06-05T21:15","s":"ALB WIS","v":3.0},
{"t":"2022-06-06T00:15","s":"ALB WIS","v":3.0},{"t":"2022-06-06T06:15","s":"ALB WIS","v":1.0},{"t":"2022-06-06T09:15","s":"ALB WIS","v":0.0},{"t":"2022-06-06T12:15","s":"ALB WIS","v":-0.5},{"t":"2022-06-06T15:15","s":"ALB WIS","v":0.5},{"t":"2022-06-06T18:15","s":"ALB WIS","v":1.2},{"t":"2022-06-06T21:15","s":"ALB WIS","v":1.6},
{"t":"2022-05-30T03:15","s":"ALB WIS","v":3.1},{"t":"2022-05-31T03:15","s":"ALB WIS","v":3.5},{"t":"2022-06-01T03:15","s":"ALB WIS","v":3.2},{"t":"2022-06-02T03:15","s":"ALB WIS","v":3.8},{"t":"2022-06-03T03:15","s":"ALB WIS","v":4.2},{"t":"2022-06-04T03:15","s":"ALB WIS","v":2.9},{"t":"2022-06-05T03:15","s":"ALB WIS","v":3.1},{"t":"2022-06-06T03:15","s":"ALB WIS","v":2.7},
{"t":"2022-05-30T07:45","s":"ALB WIS","v":-8.5},{"t":"2022-05-31T07:45","s":"ALB WIS","v":-9.0},{"t":"2022-06-01T07:45","s":"ALB WIS","v":-9.0},{"t":"2022-06-02T07:45","s":"ALB WIS","v":-8.5},{"t":"2022-06-03T07:45","s":"ALB WIS","v":-5.5},{"t":"2022-06-04T07:45","s":"ALB WIS","v":1.7},{"t":"2022-06-05T07:45","s":"ALB WIS","v":1.2},{"t":"2022-06-06T07:45","s":"ALB WIS","v":0.5},
{"t":"2022-05-29T23:30","s":"ROV CON","v":2.6},
{"t":"2022-05-30T00:30","s":"ROV CON","v":2.4},{"t":"2022-05-30T06:30","s":"ROV CON","v":-1.5},{"t":"2022-05-30T09:30","s":"ROV CON","v":-3.0},{"t":"2022-05-30T12:30","s":"ROV CON","v":-3.5},{"t":"2022-05-30T15:30","s":"ROV CON","v":-2.5},{"t":"2022-05-30T18:30","s":"ROV CON","v":-0.5},{"t":"2022-05-30T21:30","s":"ROV CON","v":2.0},
{"t":"2022-05-31T00:30","s":"ROV CON","v":2.2},{"t":"2022-05-31T06:30","s":"ROV CON","v":-1.5},{"t":"2022-05-31T09:30","s":"ROV CON","v":-3.5},{"t":"2022-05-31T12:30","s":"ROV CON","v":-4.0},{"t":"2022-05-31T15:30","s":"ROV CON","v":-3.0},{"t":"2022-05-31T18:30","s":"ROV CON","v":-1.0},{"t":"2022-05-31T21:30","s":"ROV CON","v":2.0},
{"t":"2022-06-01T00:30","s":"ROV CON","v":2.0},{"t":"2022-06-01T06:30","s":"ROV CON","v":-2.0},{"t":"2022-06-01T09:30","s":"ROV CON","v":-4.5},{"t":"2022-06-01T12:30","s":"ROV CON","v":-5.0},{"t":"2022-06-01T15:30","s":"ROV CON","v":-3.5},{"t":"2022-06-01T18:30","s":"ROV CON","v":-1.0},{"t":"2022-06-01T21:30","s":"ROV CON","v":2.2},
{"t":"2022-06-02T00:30","s":"ROV CON","v":2.0},{"t":"2022-06-02T06:30","s":"ROV CON","v":-1.5},{"t":"2022-06-02T09:30","s":"ROV CON","v":-3.5},{"t":"2022-06-02T12:30","s":"ROV CON","v":-4.0},{"t":"2022-06-02T15:30","s":"ROV CON","v":-3.0},{"t":"2022-06-02T18:30","s":"ROV CON","v":-1.0},{"t":"2022-06-02T21:30","s":"ROV CON","v":2.5},
{"t":"2022-06-03T00:30","s":"ROV CON","v":2.3},{"t":"2022-06-03T06:30","s":"ROV CON","v":-2.0},{"t":"2022-06-03T09:30","s":"ROV CON","v":-4.5},{"t":"2022-06-03T12:30","s":"ROV CON","v":-5.0},{"t":"2022-06-03T15:30","s":"ROV CON","v":-4.0},{"t":"2022-06-03T18:30","s":"ROV CON","v":-1.0},{"t":"2022-06-03T21:30","s":"ROV CON","v":2.2},
{"t":"2022-06-04T00:30","s":"ROV CON","v":2.3},{"t":"2022-06-04T06:30","s":"ROV CON","v":-2.5},{"t":"2022-06-04T09:30","s":"ROV CON","v":-5.0},{"t":"2022-06-04T12:30","s":"ROV CON","v":-6.0},{"t":"2022-06-04T15:30","s":"ROV CON","v":-5.0},{"t":"2022-06-04T18:30","s":"ROV CON","v":-1.5},{"t":"2022-06-04T21:30","s":"ROV CON","v":2.5},
{"t":"2022-06-05T00:30","s":"ROV CON","v":2.5},{"t":"2022-06-05T06:30","s":"ROV CON","v":-1.5},{"t":"2022-06-05T09:30","s":"ROV CON","v":-3.0},{"t":"2022-06-05T12:30","s":"ROV CON","v":-4.0},{"t":"2022-06-05T15:30","s":"ROV CON","v":-3.0},{"t":"2022-06-05T18:30","s":"ROV CON","v":-0.5},{"t":"2022-06-05T21:30","s":"ROV CON","v":2.6},
{"t":"2022-06-06T00:30","s":"ROV CON","v":2.5},{"t":"2022-06-06T06:30","s":"ROV CON","v":-2.0},{"t":"2022-06-06T09:30","s":"ROV CON","v":-4.0},{"t":"2022-06-06T12:30","s":"ROV CON","v":-5.0},{"t":"2022-06-06T15:30","s":"ROV CON","v":-3.5},{"t":"2022-06-06T18:30","s":"ROV CON","v":-0.5},{"t":"2022-06-06T21:30","s":"ROV CON","v":2.2},
{"t":"2022-05-30T03:30","s":"ROV CON","v":2.3},{"t":"2022-05-31T03:30","s":"ROV CON","v":2.1},{"t":"2022-06-01T03:30","s":"ROV CON","v":2.1},{"t":"2022-06-02T03:30","s":"ROV CON","v":2.2},{"t":"2022-06-03T03:30","s":"ROV CON","v":2.2},{"t":"2022-06-04T03:30","s":"ROV CON","v":2.4},{"t":"2022-06-05T03:30","s":"ROV CON","v":2.4},{"t":"2022-06-06T03:30","s":"ROV CON","v":2.3},
{"t":"2022-05-30T08:00","s":"ROV CON","v":-2.3},{"t":"2022-05-31T08:00","s":"ROV CON","v":-2.5},{"t":"2022-06-01T08:00","s":"ROV CON","v":-3.2},{"t":"2022-06-02T08:00","s":"ROV CON","v":-2.5},{"t":"2022-06-03T08:00","s":"ROV CON","v":-3.2},{"t":"2022-06-04T08:00","s":"ROV CON","v":-3.8},{"t":"2022-06-05T08:00","s":"ROV CON","v":-2.2},{"t":"2022-06-06T08:00","s":"ROV CON","v":-3.0},
{"t":"2022-05-29T23:45","s":"ROV WIS","v":2.2},
{"t":"2022-05-30T00:45","s":"ROV WIS","v":2.0},{"t":"2022-05-30T06:45","s":"ROV WIS","v":-1.0},{"t":"2022-05-30T09:45","s":"ROV WIS","v":-3.0},{"t":"2022-05-30T12:45","s":"ROV WIS","v":-4.0},{"t":"2022-05-30T15:45","s":"ROV WIS","v":-2.0},{"t":"2022-05-30T18:45","s":"ROV WIS","v":0.0},{"t":"2022-05-30T21:45","s":"ROV WIS","v":1.8},
{"t":"2022-05-31T00:45","s":"ROV WIS","v":1.8},{"t":"2022-05-31T06:45","s":"ROV WIS","v":-2.0},{"t":"2022-05-31T09:45","s":"ROV WIS","v":-4.0},{"t":"2022-05-31T12:45","s":"ROV WIS","v":-4.5},{"t":"2022-05-31T15:45","s":"ROV WIS","v":-3.0},{"t":"2022-05-31T18:45","s":"ROV WIS","v":-0.5},{"t":"2022-05-31T21:45","s":"ROV WIS","v":1.8},
{"t":"2022-06-01T00:45","s":"ROV WIS","v":1.8},{"t":"2022-06-01T06:45","s":"ROV WIS","v":-1.5},{"t":"2022-06-01T09:45","s":"ROV WIS","v":-3.0},{"t":"2022-06-01T12:45","s":"ROV WIS","v":-4.0},{"t":"2022-06-01T15:45","s":"ROV WIS","v":-2.5},{"t":"2022-06-01T18:45","s":"ROV WIS","v":-0.5},{"t":"2022-06-01T21:45","s":"ROV WIS","v":1.9},
{"t":"2022-06-02T00:45","s":"ROV WIS","v":1.7},{"t":"2022-06-02T06:45","s":"ROV WIS","v":-2.0},{"t":"2022-06-02T09:45","s":"ROV WIS","v":-4.5},{"t":"2022-06-02T12:45","s":"ROV WIS","v":-5.0},{"t":"2022-06-02T15:45","s":"ROV WIS","v":-3.5},{"t":"2022-06-02T18:45","s":"ROV WIS","v":-1.0},{"t":"2022-06-02T21:45","s":"ROV WIS","v":2.0},
{"t":"2022-06-03T00:45","s":"ROV WIS","v":1.9},{"t":"2022-06-03T06:45","s":"ROV WIS","v":-2.5},{"t":"2022-06-03T09:45","s":"ROV WIS","v":-5.0},{"t":"2022-06-03T12:45","s":"ROV WIS","v":-5.5},{"t":"2022-06-03T15:45","s":"ROV WIS","v":-4.0},{"t":"2022-06-03T18:45","s":"ROV WIS","v":-1.0},{"t":"2022-06-03T21:45","s":"ROV WIS","v":1.8},
{"t":"2022-06-04T00:45","s":"ROV WIS","v":2.0},{"t":"2022-06-04T06:45","s":"ROV WIS","v":-2.0},{"t":"2022-06-04T09:45","s":"ROV WIS","v":-5.5},{"t":"2022-06-04T12:45","s":"ROV WIS","v":-6.5},{"t":"2022-06-04T15:45","s":"ROV WIS","v":-4.5},{"t":"2022-06-04T18:45","s":"ROV WIS","v":-1.0},{"t":"2022-06-04T21:45","s":"ROV WIS","v":2.2},
{"t":"2022-06-05T00:45","s":"ROV WIS","v":2.2},{"t":"2022-06-05T06:45","s":"ROV WIS","v":-1.0},{"t":"2022-06-05T09:45","s":"ROV WIS","v":-3.5},{"t":"2022-06-05T12:45","s":"ROV WIS","v":-4.5},{"t":"2022-06-05T15:45","s":"ROV WIS","v":-2.5},{"t":"2022-06-05T18:45","s":"ROV WIS","v":0.0},{"t":"2022-06-05T21:45","s":"ROV WIS","v":2.4},
{"t":"2022-06-06T00:45","s":"ROV WIS","v":2.0},{"t":"2022-06-06T06:45","s":"ROV WIS","v":-1.5},{"t":"2022-06-06T09:45","s":"ROV WIS","v":-4.5},{"t":"2022-06-06T12:45","s":"ROV WIS","v":-6.0},{"t":"2022-06-06T15:45","s":"ROV WIS","v":-3.0},{"t":"2022-06-06T18:45","s":"ROV WIS","v":0.0},{"t":"2022-06-06T21:45","s":"ROV WIS","v":2.0},
{"t":"2022-05-30T03:45","s":"ROV WIS","v":1.9},{"t":"2022-05-31T03:45","s":"ROV WIS","v":1.7},{"t":"2022-06-01T03:45","s":"ROV WIS","v":1.8},{"t":"2022-06-02T03:45","s":"ROV WIS","v":1.8},{"t":"2022-06-03T03:45","s":"ROV WIS","v":1.8},{"t":"2022-06-04T03:45","s":"ROV WIS","v":2.1},{"t":"2022-06-05T03:45","s":"ROV WIS","v":2.1},{"t":"2022-06-06T03:45","s":"ROV WIS","v":1.9},
{"t":"2022-05-30T08:15","s":"ROV WIS","v":-2.0},{"t":"2022-05-31T08:15","s":"ROV WIS","v":-3.0},{"t":"2022-06-01T08:15","s":"ROV WIS","v":-2.2},{"t":"2022-06-02T08:15","s":"ROV WIS","v":-3.2},{"t":"2022-06-03T08:15","s":"ROV WIS","v":-3.8},{"t":"2022-06-04T08:15","s":"ROV WIS","v":-3.8},{"t":"2022-06-05T08:15","s":"ROV WIS","v":-2.2},{"t":"2022-06-06T08:15","s":"ROV WIS","v":-3.0},
{"t":"2022-05-29T23:10","s":"ZEG CON","v":4.5},
{"t":"2022-05-30T00:10","s":"ZEG CON","v":4.0},{"t":"2022-05-30T06:10","s":"ZEG CON","v":-5.0},{"t":"2022-05-30T09:10","s":"ZEG CON","v":-12.5},{"t":"2022-05-30T12:10","s":"ZEG CON","v":-14.0},{"t":"2022-05-30T15:10","s":"ZEG CON","v":-12.0},{"t":"2022-05-30T18:10","s":"ZEG CON","v":-4.0},{"t":"2022-05-30T21:10","s":"ZEG CON","v":4.5},
{"t":"2022-05-31T00:10","s":"ZEG CON","v":5.0},{"t":"2022-05-31T06:10","s":"ZEG CON","v":-5.5},{"t":"2022-05-31T09:10","s":"ZEG CON","v":-13.5},{"t":"2022-05-31T12:10","s":"ZEG CON","v":-15.0},{"t":"2022-05-31T15:10","s":"ZEG CON","v":-12.0},{"t":"2022-05-31T18:10","s":"ZEG CON","v":-3.0},{"t":"2022-05-31T21:10","s":"ZEG CON","v":4.2},
{"t":"2022-06-01T00:10","s":"ZEG CON","v":4.0},{"t":"2022-06-01T06:10","s":"ZEG CON","v":-6.0},{"t":"2022-06-01T09:10","s":"ZEG CON","v":-13.0},{"t":"2022-06-01T12:10","s":"ZEG CON","v":-14.5},{"t":"2022-06-01T15:10","s":"ZEG CON","v":-11.0},{"t":"2022-06-01T18:10","s":"ZEG CON","v":-1.0},{"t":"2022-06-01T21:10","s":"ZEG CON","v":3.6},
{"t":"2022-06-02T00:10","s":"ZEG CON","v":3.5},{"t":"2022-06-02T06:10","s":"ZEG CON","v":3.3},{"t":"2022-06-02T09:10","s":"ZEG CON","v":3.4},{"t":"2022-06-02T12:10","s":"ZEG CON","v":3.6},{"t":"2022-06-02T15:10","s":"ZEG CON","v":3.8},{"t":"2022-06-02T18:10","s":"ZEG CON","v":3.6},{"t":"2022-06-02T21:10","s":"ZEG CON","v":3.5},
{"t":"2022-06-03T00:10","s":"ZEG CON","v":3.3},{"t":"2022-06-03T06:10","s":"ZEG CON","v":2.6},{"t":"2022-06-03T09:10","s":"ZEG CON","v":2.8},{"t":"2022-06-03T12:10","s":"ZEG CON","v":3.2},{"t":"2022-06-03T15:10","s":"ZEG CON","v":3.6},{"t":"2022-06-03T18:10","s":"ZEG CON","v":5.0},{"t":"2022-06-03T21:10","s":"ZEG CON","v":4.5},
{"t":"2022-06-04T00:10","s":"ZEG CON","v":4.3},{"t":"2022-06-04T06:10","s":"ZEG CON","v":3.0},{"t":"2022-06-04T09:10","s":"ZEG CON","v":3.2},{"t":"2022-06-04T12:10","s":"ZEG CON","v":3.5},{"t":"2022-06-04T15:10","s":"ZEG CON","v":3.5},{"t":"2022-06-04T18:10","s":"ZEG CON","v":3.8},{"t":"2022-06-04T21:10","s":"ZEG CON","v":3.8},
{"t":"2022-06-05T00:10","s":"ZEG CON","v":3.6},{"t":"2022-06-05T06:10","s":"ZEG CON","v":2.0},{"t":"2022-06-05T09:10","s":"ZEG CON","v":1.2},{"t":"2022-06-05T12:10","s":"ZEG CON","v":1.0},{"t":"2022-06-05T15:10","s":"ZEG CON","v":1.5},{"t":"2022-06-05T18:10","s":"ZEG CON","v":2.5},{"t":"2022-06-05T21:10","s":"ZEG CON","v":3.0},
{"t":"2022-06-06T00:10","s":"ZEG CON","v":3.0},{"t":"2022-06-06T06:10","s":"ZEG CON","v":1.0},{"t":"2022-06-06T09:10","s":"ZEG CON","v":0.5},{"t":"2022-06-06T12:10","s":"ZEG CON","v":0.5},{"t":"2022-06-06T15:10","s":"ZEG CON","v":1.0},{"t":"2022-06-06T18:10","s":"ZEG CON","v":1.5},{"t":"2022-06-06T21:10","s":"ZEG CON","v":2.0},
{"t":"2022-05-30T03:10","s":"ZEG CON","v":4.2},{"t":"2022-05-31T03:10","s":"ZEG CON","v":4.6},{"t":"2022-06-01T03:10","s":"ZEG CON","v":3.8},{"t":"2022-06-02T03:10","s":"ZEG CON","v":3.4},{"t":"2022-06-03T03:10","s":"ZEG CON","v":3.0},{"t":"2022-06-04T03:10","s":"ZEG CON","v":4.0},{"t":"2022-06-05T03:10","s":"ZEG CON","v":3.2},{"t":"2022-06-06T03:10","s":"ZEG CON","v":2.6},
{"t":"2022-05-30T07:40","s":"ZEG CON","v":-9.0},{"t":"2022-05-31T07:40","s":"ZEG CON","v":-10.0},{"t":"2022-06-01T07:40","s":"ZEG CON","v":-10.0},{"t":"2022-06-02T07:40","s":"ZEG CON","v":3.3},{"t":"2022-06-03T07:40","s":"ZEG CON","v":2.7},{"t":"2022-06-04T07:40","s":"ZEG CON","v":3.1},{"t":"2022-06-05T07:40","s":"ZEG CON","v":1.6},{"t":"2022-06-06T07:40","s":"ZEG CON","v":0.8},
{"t":"2022-05-29T23:40","s":"ZEG WIS","v":3.0},
{"t":"2022-05-30T00:40","s":"ZEG WIS","v":3.2},{"t":"2022-05-30T06:40","s":"ZEG WIS","v":-4.5},{"t":"2022-05-30T09:40","s":"ZEG WIS","v":-11.0},{"t":"2022-05-30T12:40","s":"ZEG WIS","v":-13.5},{"t":"2022-05-30T15:40","s":"ZEG WIS","v":-12.5},{"t":"2022-05-30T18:40","s":"ZEG WIS","v":-4.5},{"t":"2022-05-30T21:40","s":"ZEG WIS","v":4.8},
{"t":"2022-05-31T00:40","s":"ZEG WIS","v":4.4},{"t":"2022-05-31T06:40","s":"ZEG WIS","v":-5.0},{"t":"2022-05-31T09:40","s":"ZEG WIS","v":-12.0},{"t":"2022-05-31T12:40","s":"ZEG WIS","v":-14.0},{"t":"2022-05-31T15:40","s":"ZEG WIS","v":-13.0},{"t":"2022-05-31T18:40","s":"ZEG WIS","v":-3.5},{"t":"2022-05-31T21:40","s":"ZEG WIS","v":4.5},
{"t":"2022-06-01T00:40","s":"ZEG WIS","v":3.8},{"t":"2022-06-01T06:40","s":"ZEG WIS","v":-5.5},{"t":"2022-06-01T09:40","s":"ZEG WIS","v":-11.0},{"t":"2022-06-01T12:40","s":"ZEG WIS","v":3.7},{"t":"2022-06-01T15:40","s":"ZEG WIS","v":3.5},{"t":"2022-06-01T18:40","s":"ZEG WIS","v":3.8},{"t":"2022-06-01T21:40","s":"ZEG WIS","v":4.0},
{"t":"2022-06-02T00:40","s":"ZEG WIS","v":4.0},{"t":"2022-06-02T06:40","s":"ZEG WIS","v":3.5},{"t":"2022-06-02T09:40","s":"ZEG WIS","v":4.5},{"t":"2022-06-02T12:40","s":"ZEG WIS","v":5.2},{"t":"2022-06-02T15:40","s":"ZEG WIS","v":4.5},{"t":"2022-06-02T18:40","s":"ZEG WIS","v":3.3},{"t":"2022-06-02T21:40","s":"ZEG WIS","v":3.0},
{"t":"2022-06-03T00:40","s":"ZEG WIS","v":2.6},{"t":"2022-06-03T06:40","s":"ZEG WIS","v":2.3},{"t":"2022-06-03T09:40","s":"ZEG WIS","v":2.6},{"t":"2022-06-03T12:40","s":"ZEG WIS","v":3.0},{"t":"2022-06-03T15:40","s":"ZEG WIS","v":3.4},{"t":"2022-06-03T18:40","s":"ZEG WIS","v":3.6},{"t":"2022-06-03T21:40","s":"ZEG WIS","v":3.5},
{"t":"2022-06-04T00:40","s":"ZEG WIS","v":3.3},{"t":"2022-06-04T06:40","s":"ZEG WIS","v":2.5},{"t":"2022-06-04T09:40","s":"ZEG WIS","v":2.6},{"t":"2022-06-04T12:40","s":"ZEG WIS","v":2.8},{"t":"2022-06-04T15:40","s":"ZEG WIS","v":2.6},{"t":"2022-06-04T18:40","s":"ZEG WIS","v":2.8},{"t":"2022-06-04T21:40","s":"ZEG WIS","v":3.3},
{"t":"2022-06-05T00:40","s":"ZEG WIS","v":3.5},{"t":"2022-06-05T06:40","s":"ZEG WIS","v":2.0},{"t":"2022-06-05T09:40","s":"ZEG WIS","v":1.0},{"t":"2022-06-05T12:40","s":"ZEG WIS","v":0.8},{"t":"2022-06-05T15:40","s":"ZEG WIS","v":1.5},{"t":"2022-06-05T18:40","s":"ZEG WIS","v":2.5},{"t":"2022-06-05T21:40","s":"ZEG WIS","v":3.8},
{"t":"2022-06-06T00:40","s":"ZEG WIS","v":3.0},{"t":"2022-06-06T06:40","s":"ZEG WIS","v":1.0},{"t":"2022-06-06T09:40","s":"ZEG WIS","v":0.8},{"t":"2022-06-06T12:40","s":"ZEG WIS","v":1.0},{"t":"2022-06-06T15:40","s":"ZEG WIS","v":1.5},{"t":"2022-06-06T18:40","s":"ZEG WIS","v":2.0},{"t":"2022-06-06T21:40","s":"ZEG WIS","v":2.2},
{"t":"2022-05-30T03:40","s":"ZEG WIS","v":3.4},{"t":"2022-05-31T03:40","s":"ZEG WIS","v":4.2},{"t":"2022-06-01T03:40","s":"ZEG WIS","v":3.9},{"t":"2022-06-02T03:40","s":"ZEG WIS","v":3.8},{"t":"2022-06-03T03:40","s":"ZEG WIS","v":2.5},{"t":"2022-06-04T03:40","s":"ZEG WIS","v":3.0},{"t":"2022-06-05T03:40","s":"ZEG WIS","v":3.2},{"t":"2022-06-06T03:40","s":"ZEG WIS","v":2.5},
{"t":"2022-05-30T08:10","s":"ZEG WIS","v":-8.0},{"t":"2022-05-31T08:10","s":"ZEG WIS","v":-8.5},{"t":"2022-06-01T08:10","s":"ZEG WIS","v":-8.5},{"t":"2022-06-02T08:10","s":"ZEG WIS","v":4.0},{"t":"2022-06-03T08:10","s":"ZEG WIS","v":2.4},{"t":"2022-06-04T08:10","s":"ZEG WIS","v":2.5},{"t":"2022-06-05T08:10","s":"ZEG WIS","v":1.5},{"t":"2022-06-06T08:10","s":"ZEG WIS","v":0.9},
{"t":"2022-05-29T23:00","s":"ASD CON","v":2.9},
{"t":"2022-05-30T02:00","s":"ASD CON","v":2.8},{"t":"2022-05-30T07:00","s":"ASD CON","v":-2.5},{"t":"2022-05-30T10:00","s":"ASD CON","v":-4.0},{"t":"2022-05-30T13:00","s":"ASD CON","v":-4.5},{"t":"2022-05-30T16:00","s":"ASD CON","v":-3.0},{"t":"2022-05-30T19:00","s":"ASD CON","v":1.5},{"t":"2022-05-30T22:00","s":"ASD CON","v":3.0},
{"t":"2022-05-31T02:00","s":"ASD CON","v":3.0},{"t":"2022-05-31T07:00","s":"ASD CON","v":-3.5},{"t":"2022-05-31T10:00","s":"ASD CON","v":-6.0},{"t":"2022-05-31T13:00","s":"ASD CON","v":-6.5},{"t":"2022-05-31T16:00","s":"ASD CON","v":-4.5},{"t":"2022-05-31T19:00","s":"ASD CON","v":1.5},{"t":"2022-05-31T22:00","s":"ASD CON","v":3.2},
{"t":"2022-06-01T02:00","s":"ASD CON","v":3.5},{"t":"2022-06-01T07:00","s":"ASD CON","v":-4.0},{"t":"2022-06-01T10:00","s":"ASD CON","v":-7.0},{"t":"2022-06-01T13:00","s":"ASD CON","v":-7.5},{"t":"2022-06-01T16:00","s":"ASD CON","v":-5.0},{"t":"2022-06-01T19:00","s":"ASD CON","v":1.5},{"t":"2022-06-01T22:00","s":"ASD CON","v":3.6},
{"t":"2022-06-02T02:00","s":"ASD CON","v":3.6},{"t":"2022-06-02T07:00","s":"ASD CON","v":-4.5},{"t":"2022-06-02T10:00","s":"ASD CON","v":-7.5},{"t":"2022-06-02T13:00","s":"ASD CON","v":-8.0},{"t":"2022-06-02T16:00","s":"ASD CON","v":-6.0},{"t":"2022-06-02T19:00","s":"ASD CON","v":2.0},{"t":"2022-06-02T22:00","s":"ASD CON","v":4.0},
{"t":"2022-06-03T02:00","s":"ASD CON","v":4.0},{"t":"2022-06-03T07:00","s":"ASD CON","v":-5.0},{"t":"2022-06-03T10:00","s":"ASD CON","v":-8.0},{"t":"2022-06-03T13:00","s":"ASD CON","v":-8.5},{"t":"2022-06-03T16:00","s":"ASD CON","v":-7.0},{"t":"2022-06-03T19:00","s":"ASD CON","v":1.5},{"t":"2022-06-03T22:00","s":"ASD CON","v":4.0},
{"t":"2022-06-04T02:00","s":"ASD CON","v":4.2},{"t":"2022-06-04T07:00","s":"ASD CON","v":-6.0},{"t":"2022-06-04T10:00","s":"ASD CON","v":-10.5},{"t":"2022-06-04T13:00","s":"ASD CON","v":-11.0},{"t":"2022-06-04T16:00","s":"ASD CON","v":-8.0},{"t":"2022-06-04T19:00","s":"ASD CON","v":1.5},{"t":"2022-06-04T22:00","s":"ASD CON","v":4.0},
{"t":"2022-06-05T02:00","s":"ASD CON","v":3.8},{"t":"2022-06-05T07:00","s":"ASD CON","v":-5.0},{"t":"2022-06-05T10:00","s":"ASD CON","v":-9.0},{"t":"2022-06-05T13:00","s":"ASD CON","v":-10.0},{"t":"2022-06-05T16:00","s":"ASD CON","v":-7.0},{"t":"2022-06-05T19:00","s":"ASD CON","v":2.0},{"t":"2022-06-05T22:00","s":"ASD CON","v":4.5},
{"t":"2022-06-06T02:00","s":"ASD CON","v":4.0},{"t":"2022-06-06T07:00","s":"ASD CON","v":-6.0},{"t":"2022-06-06T10:00","s":"ASD CON","v":-11.0},{"t":"2022-06-06T13:00","s":"ASD CON","v":-12.0},{"t":"2022-06-06T16:00","s":"ASD CON","v":-8.0},{"t":"2022-06-06T19:00","s":"ASD CON","v":1.5},{"t":"2022-06-06T22:00","s":"ASD CON","v":3.0},
{"t":"2022-05-30T04:30","s":"ASD CON","v":2.8},{"t":"2022-05-31T04:30","s":"ASD CON","v":3.1},{"t":"2022-06-01T04:30","s":"ASD CON","v":3.4},{"t":"2022-06-02T04:30","s":"ASD CON","v":3.8},{"t":"2022-06-03T04:30","s":"ASD CON","v":4.1},{"t":"2022-06-04T04:30","s":"ASD CON","v":4.0},{"t":"2022-06-05T04:30","s":"ASD CON","v":3.9},{"t":"2022-06-06T04:30","s":"ASD CON","v":3.7},
{"t":"2022-05-30T11:30","s":"ASD CON","v":-4.8},{"t":"2022-05-31T11:30","s":"ASD CON","v":-6.8},{"t":"2022-06-01T11:30","s":"ASD CON","v":-7.8},{"t":"2022-06-02T11:30","s":"ASD CON","v":-8.2},{"t":"2022-06-03T11:30","s":"ASD CON","v":-8.8},{"t":"2022-06-04T11:30","s":"ASD CON","v":-11.2},{"t":"2022-06-05T11:30","s":"ASD CON","v":-10.2},{"t":"2022-06-06T11:30","s":"ASD CON","v":-12.3},
{"t":"2022-05-29T23:20","s":"ASD WIS","v":2.7},
{"t":"2022-05-30T02:20","s":"ASD WIS","v":2.6},{"t":"2022-05-30T07:20","s":"ASD WIS","v":-3.5},{"t":"2022-05-30T10:20","s":"ASD WIS","v":-6.5},{"t":"2022-05-30T13:20","s":"ASD WIS","v":-7.5},{"t":"2022-05-30T16:20","s":"ASD WIS","v":-5.0},{"t":"2022-05-30T19:20","s":"ASD WIS","v":1.0},{"t":"2022-05-30T22:20","s":"ASD WIS","v":2.8},
{"t":"2022-05-31T02:20","s":"ASD WIS","v":2.8},{"t":"2022-05-31T07:20","s":"ASD WIS","v":-4.0},{"t":"2022-05-31T10:20","s":"ASD WIS","v":-7.0},{"t":"2022-05-31T13:20","s":"ASD WIS","v":-8.0},{"t":"2022-05-31T16:20","s":"ASD WIS","v":-5.5},{"t":"2022-05-31T19:20","s":"ASD WIS","v":1.2},{"t":"2022-05-31T22:20","s":"ASD WIS","v":3.0},
{"t":"2022-06-01T02:20","s":"ASD WIS","v":3.0},{"t":"2022-06-01T07:20","s":"ASD WIS","v":-4.5},{"t":"2022-06-01T10:20","s":"ASD WIS","v":-8.0},{"t":"2022-06-01T13:20","s":"ASD WIS","v":-9.0},{"t":"2022-06-01T16:20","s":"ASD WIS","v":-6.0},{"t":"2022-06-01T19:20","s":"ASD WIS","v":1.2},{"t":"2022-06-01T22:20","s":"ASD WIS","v":3.4},
{"t":"2022-06-02T02:20","s":"ASD WIS","v":3.4},{"t":"2022-06-02T07:20","s":"ASD WIS","v":-4.5},{"t":"2022-06-02T10:20","s":"ASD WIS","v":-8.0},{"t":"2022-06-02T13:20","s":"ASD WIS","v":-8.5},{"t":"2022-06-02T16:20","s":"ASD WIS","v":-6.5},{"t":"2022-06-02T19:20","s":"ASD WIS","v":1.5},{"t":"2022-06-02T22:20","s":"ASD WIS","v":3.8},
{"t":"2022-06-03T02:20","s":"ASD WIS","v":3.6},{"t":"2022-06-03T07:20","s":"ASD WIS","v":-5.5},{"t":"2022-06-03T10:20","s":"ASD WIS","v":-9.0},{"t":"2022-06-03T13:20","s":"ASD WIS","v":-9.5},{"t":"2022-06-03T16:20","s":"ASD WIS","v":-7.5},{"t":"2022-06-03T19:20","s":"ASD WIS","v":1.2},{"t":"2022-06-03T22:20","s":"ASD WIS","v":3.6},
{"t":"2022-06-04T02:20","s":"ASD WIS","v":3.8},{"t":"2022-06-04T07:20","s":"ASD WIS","v":-6.5},{"t":"2022-06-04T10:20","s":"ASD WIS","v":-11.0},{"t":"2022-06-04T13:20","s":"ASD WIS","v":-11.5},{"t":"2022-06-04T16:20","s":"ASD WIS","v":-9.0},{"t":"2022-06-04T19:20","s":"ASD WIS","v":1.5},{"t":"2022-06-04T22:20","s":"ASD WIS","v":3.6},
{"t":"2022-06-05T02:20","s":"ASD WIS","v":3.6},{"t":"2022-06-05T07:20","s":"ASD WIS","v":-4.5},{"t":"2022-06-05T10:20","s":"ASD WIS","v":-8.0},{"t":"2022-06-05T13:20","s":"ASD WIS","v":-9.5},{"t":"2022-06-05T16:20","s":"ASD WIS","v":-6.5},{"t":"2022-06-05T19:20","s":"ASD WIS","v":1.5},{"t":"2022-06-05T22:20","s":"ASD WIS","v":4.3},
{"t":"2022-06-06T02:20","s":"ASD WIS","v":3.8},{"t":"2022-06-06T07:20","s":"ASD WIS","v":-6.0},{"t":"2022-06-06T10:20","s":"ASD WIS","v":-12.0},{"t":"2022-06-06T13:20","s":"ASD WIS","v":-13.0},{"t":"2022-06-06T16:20","s":"ASD WIS","v":-8.5},{"t":"2022-06-06T19:20","s":"ASD WIS","v":1.2},{"t":"2022-06-06T22:20","s":"ASD WIS","v":2.8},
{"t":"2022-05-30T04:50","s":"ASD WIS","v":2.6},{"t":"2022-05-31T04:50","s":"ASD WIS","v":2.9},{"t":"2022-06-01T04:50","s":"ASD WIS","v":3.1},{"t":"2022-06-02T04:50","s":"ASD WIS","v":3.5},{"t":"2022-06-03T04:50","s":"ASD WIS","v":3.7},{"t":"2022-06-04T04:50","s":"ASD WIS","v":3.7},{"t":"2022-06-05T04:50","s":"ASD WIS","v":3.7},{"t":"2022-06-06T04:50","s":"ASD WIS","v":3.5},
{"t":"2022-05-30T11:50","s":"ASD WIS","v":-7.8},{"t":"2022-05-31T11:50","s":"ASD WIS","v":-8.2},{"t":"2022-06-01T11:50","s":"ASD WIS","v":-9.2},{"t":"2022-06-02T11:50","s":"ASD WIS","v":-8.8},{"t":"2022-06-03T11:50","s":"ASD WIS","v":-9.6},{"t":"2022-06-04T11:50","s":"ASD WIS","v":-11.8},{"t":"2022-06-05T11:50","s":"ASD WIS","v":-9.8},{"t":"2022-06-06T11:50","s":"ASD WIS","v":-13.2},
{"t":"2022-05-29T23:40","s":"VLI CON","v":3.1},
{"t":"2022-05-30T02:40","s":"VLI CON","v":3.0},{"t":"2022-05-30T07:40","s":"VLI CON","v":-4.0},{"t":"2022-05-30T10:40","s":"VLI CON","v":-7.5},{"t":"2022-05-30T13:40","s":"VLI CON","v":-8.5},{"t":"2022-05-30T16:40","s":"VLI CON","v":-6.0},{"t":"2022-05-30T19:40","s":"VLI CON","v":1.5},{"t":"2022-05-30T22:40","s":"VLI CON","v":3.3},
{"t":"2022-05-31T02:40","s":"VLI CON","v":3.3},{"t":"2022-05-31T07:40","s":"VLI CON","v":-5.0},{"t":"2022-05-31T10:40","s":"VLI CON","v":-9.0},{"t":"2022-05-31T13:40","s":"VLI CON","v":-9.5},{"t":"2022-05-31T16:40","s":"VLI CON","v":-7.0},{"t":"2022-05-31T19:40","s":"VLI CON","v":1.5},{"t":"2022-05-31T22:40","s":"VLI CON","v":3.7},
{"t":"2022-06-01T02:40","s":"VLI CON","v":3.8},{"t":"2022-06-01T07:40","s":"VLI CON","v":-4.5},{"t":"2022-06-01T10:40","s":"VLI CON","v":-8.5},{"t":"2022-06-01T13:40","s":"VLI CON","v":-9.0},{"t":"2022-06-01T16:40","s":"VLI CON","v":-6.5},{"t":"2022-06-01T19:40","s":"VLI CON","v":1.5},{"t":"2022-06-01T22:40","s":"VLI CON","v":4.0},
{"t":"2022-06-02T02:40","s":"VLI CON","v":4.2},{"t":"2022-06-02T07:40","s":"VLI CON","v":-5.0},{"t":"2022-06-02T10:40","s":"VLI CON","v":-8.5},{"t":"2022-06-02T13:40","s":"VLI CON","v":-9.0},{"t":"2022-06-02T16:40","s":"VLI CON","v":-7.0},{"t":"2022-06-02T19:40","s":"VLI CON","v":2.0},{"t":"2022-06-02T22:40","s":"VLI CON","v":5.0},
{"t":"2022-06-03T02:40","s":"VLI CON","v":5.0},{"t":"2022-06-03T07:40","s":"VLI CON","v":-5.5},{"t":"2022-06-03T10:40","s":"VLI CON","v":-9.0},{"t":"2022-06-03T13:40","s":"VLI CON","v":-9.5},{"t":"2022-06-03T16:40","s":"VLI CON","v":-7.5},{"t":"2022-06-03T19:40","s":"VLI CON","v":2.5},{"t":"2022-06-03T22:40","s":"VLI CON","v":6.2},
{"t":"2022-06-04T02:40","s":"VLI CON","v":5.8},{"t":"2022-06-04T07:40","s":"VLI CON","v":-5.5},{"t":"2022-06-04T10:40","s":"VLI CON","v":-9.0},{"t":"2022-06-04T13:40","s":"VLI CON","v":-10.0},{"t":"2022-06-04T16:40","s":"VLI CON","v":-7.0},{"t":"2022-06-04T19:40","s":"VLI CON","v":3.0},{"t":"2022-06-04T22:40","s":"VLI CON","v":7.0},
{"t":"2022-06-05T02:40","s":"VLI CON","v":6.5},{"t":"2022-06-05T07:40","s":"VLI CON","v":-7.0},{"t":"2022-06-05T10:40","s":"VLI CON","v":-12.0},{"t":"2022-06-05T13:40","s":"VLI CON","v":-13.0},{"t":"2022-06-05T16:40","s":"VLI CON","v":-9.0},{"t":"2022-06-05T19:40","s":"VLI CON","v":1.5},{"t":"2022-06-05T22:40","s":"VLI CON","v":4.2},
{"t":"2022-06-06T02:40","s":"VLI CON","v":3.8},{"t":"2022-06-06T07:40","s":"VLI CON","v":-7.5},{"t":"2022-06-06T10:40","s":"VLI CON","v":-13.0},{"t":"2022-06-06T13:40","s":"VLI CON","v":-14.5},{"t":"2022-06-06T16:40","s":"VLI CON","v":-9.5},{"t":"2022-06-06T19:40","s":"VLI CON","v":1.5},{"t":"2022-06-06T22:40","s":"VLI CON","v":3.5},
{"t":"2022-05-30T04:10","s":"VLI CON","v":3.1},{"t":"2022-05-31T04:10","s":"VLI CON","v":3.5},{"t":"2022-06-01T04:10","s":"VLI CON","v":3.9},{"t":"2022-06-02T04:10","s":"VLI CON","v":4.6},{"t":"2022-06-03T04:10","s":"VLI CON","v":5.6},{"t":"2022-06-04T04:10","s":"VLI CON","v":6.2},{"t":"2022-06-05T04:10","s":"VLI CON","v":5.5},{"t":"2022-06-06T04:10","s":"VLI CON","v":3.6},
{"t":"2022-05-30T12:10","s":"VLI CON","v":-8.8},{"t":"2022-05-31T12:10","s":"VLI CON","v":-9.8},{"t":"2022-06-01T12:10","s":"VLI CON","v":-9.2},{"t":"2022-06-02T12:10","s":"VLI CON","v":-9.3},{"t":"2022-06-03T12:10","s":"VLI CON","v":-9.8},{"t":"2022-06-04T12:10","s":"VLI CON","v":-10.2},{"t":"2022-06-05T12:10","s":"VLI CON","v":-13.2},{"t":"2022-06-06T12:10","s":"VLI CON","v":-14.2},
{"t":"2022-05-29T23:10","s":"VLI WIS","v":2.8},
{"t":"2022-05-30T02:10","s":"VLI WIS","v":2.7},{"t":"2022-05-30T07:10","s":"VLI WIS","v":-4.5},{"t":"2022-05-30T10:10","s":"VLI WIS","v":-8.0},{"t":"2022-05-30T13:10","s":"VLI WIS","v":-9.0},{"t":"2022-05-30T16:10","s":"VLI WIS","v":-6.5},{"t":"2022-05-30T19:10","s":"VLI WIS","v":1.2},{"t":"2022-05-30T22:10","s":"VLI WIS","v":3.0},
{"t":"2022-05-31T02:10","s":"VLI WIS","v":3.0},{"t":"2022-05-31T07:10","s":"VLI WIS","v":-4.5},{"t":"2022-05-31T10:10","s":"VLI WIS","v":-8.0},{"t":"2022-05-31T13:10","s":"VLI WIS","v":-8.5},{"t":"2022-05-31T16:10","s":"VLI WIS","v":-6.0},{"t":"2022-05-31T19:10","s":"VLI WIS","v":1.5},{"t":"2022-05-31T22:10","s":"VLI WIS","v":3.5},
{"t":"2022-06-01T02:10","s":"VLI WIS","v":3.5},{"t":"2022-06-01T07:10","s":"VLI WIS","v":-4.0},{"t":"2022-06-01T10:10","s":"VLI WIS","v":-7.5},{"t":"2022-06-01T13:10","s":"VLI WIS","v":-8.5},{"t":"2022-06-01T16:10","s":"VLI WIS","v":-6.0},{"t":"2022-06-01T19:10","s":"VLI WIS","v":1.8},{"t":"2022-06-01T22:10","s":"VLI WIS","v":3.8},
{"t":"2022-06-02T02:10","s":"VLI WIS","v":3.9},{"t":"2022-06-02T07:10","s":"VLI WIS","v":-4.5},{"t":"2022-06-02T10:10","s":"VLI WIS","v":-7.5},{"t":"2022-06-02T13:10","s":"VLI WIS","v":-8.0},{"t":"2022-06-02T16:10","s":"VLI WIS","v":-6.0},{"t":"2022-06-02T19:10","s":"VLI WIS","v":2.0},{"t":"2022-06-02T22:10","s":"VLI WIS","v":4.5},
{"t":"2022-06-03T02:10","s":"VLI WIS","v":4.5},{"t":"2022-06-03T07:10","s":"VLI WIS","v":-5.0},{"t":"2022-06-03T10:10","s":"VLI WIS","v":-8.5},{"t":"2022-06-03T13:10","s":"VLI WIS","v":-9.0},{"t":"2022-06-03T16:10","s":"VLI WIS","v":-7.0},{"t":"2022-06-03T19:10","s":"VLI WIS","v":2.5},{"t":"2022-06-03T22:10","s":"VLI WIS","v":5.5},
{"t":"2022-06-04T02:10","s":"VLI WIS","v":5.2},{"t":"2022-06-04T07:10","s":"VLI WIS","v":-5.0},{"t":"2022-06-04T10:10","s":"VLI WIS","v":-9.0},{"t":"2022-06-04T13:10","s":"VLI WIS","v":-9.5},{"t":"2022-06-04T16:10","s":"VLI WIS","v":-7.0},{"t":"2022-06-04T19:10","s":"VLI WIS","v":2.5},{"t":"2022-06-04T22:10","s":"VLI WIS","v":6.5},
{"t":"2022-06-05T02:10","s":"VLI WIS","v":6.0},{"t":"2022-06-05T07:10","s":"VLI WIS","v":-6.5},{"t":"2022-06-05T10:10","s":"VLI WIS","v":-11.0},{"t":"2022-06-05T13:10","s":"VLI WIS","v":-12.5},{"t":"2022-06-05T16:10","s":"VLI WIS","v":-8.5},{"t":"2022-06-05T19:10","s":"VLI WIS","v":1.5},{"t":"2022-06-05T22:10","s":"VLI WIS","v":3.8},
{"t":"2022-06-06T02:10","s":"VLI WIS","v":3.5},{"t":"2022-06-06T07:10","s":"VLI WIS","v":-7.0},{"t":"2022-06-06T10:10","s":"VLI WIS","v":-12.0},{"t":"2022-06-06T13:10","s":"VLI WIS","v":-13.5},{"t":"2022-06-06T16:10","s":"VLI WIS","v":-9.0},{"t":"2022-06-06T19:10","s":"VLI WIS","v":1.2},{"t":"2022-06-06T22:10","s":"VLI WIS","v":3.2},
{"t":"2022-05-30T04:40","s":"VLI WIS","v":2.8},{"t":"2022-05-31T04:40","s":"VLI WIS","v":3.2},{"t":"2022-06-01T04:40","s":"VLI WIS","v":3.6},{"t":"2022-06-02T04:40","s":"VLI WIS","v":4.2},{"t":"2022-06-03T04:40","s":"VLI WIS","v":5.0},{"t":"2022-06-04T04:40","s":"VLI WIS","v":5.8},{"t":"2022-06-05T04:40","s":"VLI WIS","v":5.0},{"t":"2022-06-06T04:40","s":"VLI WIS","v":3.3},
{"t":"2022-05-30T11:40","s":"VLI WIS","v":-9.2},{"t":"2022-05-31T11:40","s":"VLI WIS","v":-8.8},{"t":"2022-06-01T11:40","s":"VLI WIS","v":-8.8},{"t":"2022-06-02T11:40","s":"VLI WIS","v":-8.2},{"t":"2022-06-03T11:40","s":"VLI WIS","v":-9.2},{"t":"2022-06-04T11:40","s":"VLI WIS","v":-9.8},{"t":"2022-06-05T11:40","s":"VLI WIS","v":-12.8},{"t":"2022-06-06T11:40","s":"VLI WIS","v":-13.8},
{"t":"2022-05-29T23:30","s":"LAW WIS","v":3.0},
{"t":"2022-05-30T02:30","s":"LAW WIS","v":3.2},{"t":"2022-05-30T07:30","s":"LAW WIS","v":-4.5},{"t":"2022-05-30T10:30","s":"LAW WIS","v":-7.0},{"t":"2022-05-30T13:30","s":"LAW WIS","v":-8.0},{"t":"2022-05-30T16:30","s":"LAW WIS","v":-5.5},{"t":"2022-05-30T19:30","s":"LAW WIS","v":2.0},{"t":"2022-05-30T22:30","s":"LAW WIS","v":3.8},
{"t":"2022-05-31T02:30","s":"LAW WIS","v":3.8},{"t":"2022-05-31T07:30","s":"LAW WIS","v":-4.0},{"t":"2022-05-31T10:30","s":"LAW WIS","v":-6.5},{"t":"2022-05-31T13:30","s":"LAW WIS","v":-7.0},{"t":"2022-05-31T16:30","s":"LAW WIS","v":-5.0},{"t":"2022-05-31T19:30","s":"LAW WIS","v":2.0},{"t":"2022-05-31T22:30","s":"LAW WIS","v":4.0},
{"t":"2022-06-01T02:30","s":"LAW WIS","v":4.0},{"t":"2022-06-01T07:30","s":"LAW WIS","v":-4.5},{"t":"2022-06-01T10:30","s":"LAW WIS","v":-7.0},{"t":"2022-06-01T13:30","s":"LAW WIS","v":-7.5},{"t":"2022-06-01T16:30","s":"LAW WIS","v":-5.0},{"t":"2022-06-01T19:30","s":"LAW WIS","v":2.0},{"t":"2022-06-01T22:30","s":"LAW WIS","v":4.3},
{"t":"2022-06-02T02:30","s":"LAW WIS","v":4.5},{"t":"2022-06-02T07:30","s":"LAW WIS","v":-5.0},{"t":"2022-06-02T10:30","s":"LAW WIS","v":-7.5},{"t":"2022-06-02T13:30","s":"LAW WIS","v":-8.0},{"t":"2022-06-02T16:30","s":"LAW WIS","v":-6.0},{"t":"2022-06-02T19:30","s":"LAW WIS","v":2.5},{"t":"2022-06-02T22:30","s":"LAW WIS","v":5.0},
{"t":"2022-06-03T02:30","s":"LAW WIS","v":5.0},{"t":"2022-06-03T07:30","s":"LAW WIS","v":-5.5},{"t":"2022-06-03T10:30","s":"LAW WIS","v":-8.0},{"t":"2022-06-03T13:30","s":"LAW WIS","v":-8.5},{"t":"2022-06-03T16:30","s":"LAW WIS","v":-6.5},{"t":"2022-06-03T19:30","s":"LAW WIS","v":2.5},{"t":"2022-06-03T22:30","s":"LAW WIS","v":5.0},
{"t":"2022-06-04T02:30","s":"LAW WIS","v":5.0},{"t":"2022-06-04T07:30","s":"LAW WIS","v":-6.0},{"t":"2022-06-04T10:30","s":"LAW WIS","v":-10.5},{"t":"2022-06-04T13:30","s":"LAW WIS","v":-11.5},{"t":"2022-06-04T16:30","s":"LAW WIS","v":-8.0},{"t":"2022-06-04T19:30","s":"LAW WIS","v":2.5},{"t":"2022-06-04T22:30","s":"LAW WIS","v":5.3},
{"t":"2022-06-05T02:30","s":"LAW WIS","v":5.5},{"t":"2022-06-05T07:30","s":"LAW WIS","v":-5.0},{"t":"2022-06-05T10:30","s":"LAW WIS","v":-9.0},{"t":"2022-06-05T13:30","s":"LAW WIS","v":-10.0},{"t":"2022-06-05T16:30","s":"LAW WIS","v":-7.0},{"t":"2022-06-05T19:30","s":"LAW WIS","v":2.5},{"t":"2022-06-05T22:30","s":"LAW WIS","v":4.0},
{"t":"2022-06-06T02:30","s":"LAW WIS","v":3.8},{"t":"2022-06-06T07:30","s":"LAW WIS","v":-4.5},{"t":"2022-06-06T10:30","s":"LAW WIS","v":-7.5},{"t":"2022-06-06T13:30","s":"LAW WIS","v":-8.0},{"t":"2022-06-06T16:30","s":"LAW WIS","v":-6.0},{"t":"2022-06-06T19:30","s":"LAW WIS","v":2.0},{"t":"2022-06-06T22:30","s":"LAW WIS","v":3.2},
{"t":"2022-05-30T04:20","s":"LAW WIS","v":3.4},{"t":"2022-05-31T04:20","s":"LAW WIS","v":3.9},{"t":"2022-06-01T04:20","s":"LAW WIS","v":4.2},{"t":"2022-06-02T04:20","s":"LAW WIS","v":4.8},{"t":"2022-06-03T04:20","s":"LAW WIS","v":5.0},{"t":"2022-06-04T04:20","s":"LAW WIS","v":5.2},{"t":"2022-06-05T04:20","s":"LAW WIS","v":5.0},{"t":"2022-06-06T04:20","s":"LAW WIS","v":3.5},
{"t":"2022-05-30T12:00","s":"LAW WIS","v":-8.2},{"t":"2022-05-31T12:00","s":"LAW WIS","v":-7.2},{"t":"2022-06-01T12:00","s":"LAW WIS","v":-7.7},{"t":"2022-06-02T12:00","s":"LAW WIS","v":-8.3},{"t":"2022-06-03T12:00","s":"LAW WIS","v":-8.8},{"t":"2022-06-04T12:00","s":"LAW WIS","v":-11.8},{"t":"2022-06-05T12:00","s":"LAW WIS","v":-10.3},{"t":"2022-06-06T12:00","s":"LAW WIS","v":-8.3}
],
"fluxC": [
{"t":"2022-06-03T03:03","ch":"1","v":3.75},{"t":"2022-06-03T03:33","ch":"1","v":3.27},{"t":"2022-06-03T04:03","ch":"1","v":3.55},{"t":"2022-06-03T04:33","ch":"1","v":3.55},{"t":"2022-06-03T05:03","ch":"1","v":3.32},{"t":"2022-06-03T05:33","ch":"1","v":2.67},{"t":"2022-06-03T06:03","ch":"1","v":1.62},{"t":"2022-06-03T06:33","ch":"1","v":-2.28},{"t":"2022-06-03T07:03","ch":"1","v":-4.91},{"t":"2022-06-03T07:33","ch":"1","v":-6.57},{"t":"2022-06-03T08:03","ch":"1","v":-7.49},{"t":"2022-06-03T08:33","ch":"1","v":-9.07},{"t":"2022-06-03T09:03","ch":"1","v":-10.85},{"t":"2022-06-03T09:33","ch":"1","v":-10.4},{"t":"2022-06-03T10:03","ch":"1","v":-11.32},
{"t":"2022-06-03T10:31","ch":"1","v":1.68},{"t":"2022-06-03T11:01","ch":"1","v":2.07},{"t":"2022-06-03T11:31","ch":"1","v":2.0},{"t":"2022-06-03T12:01","ch":"1","v":1.88},{"t":"2022-06-03T12:31","ch":"1","v":1.83},{"t":"2022-06-03T13:01","ch":"1","v":1.95},{"t":"2022-06-03T13:31","ch":"1","v":1.88},{"t":"2022-06-03T14:01","ch":"1","v":2.0},{"t":"2022-06-03T14:31","ch":"1","v":2.27},{"t":"2022-06-03T15:01","ch":"1","v":1.98},{"t":"2022-06-03T15:31","ch":"1","v":2.2},{"t":"2022-06-03T16:01","ch":"1","v":2.17},{"t":"2022-06-03T16:31","ch":"1","v":1.85},{"t":"2022-06-03T17:01","ch":"1","v":1.56},{"t":"2022-06-03T17:31","ch":"1","v":1.48},
{"t":"2022-06-03T03:07","ch":"2","v":3.27},{"t":"2022-06-03T03:37","ch":"2","v":3.47},{"t":"2022-06-03T04:07","ch":"2","v":3.75},{"t":"2022-06-03T04:37","ch":"2","v":4.0},{"t":"2022-06-03T05:07","ch":"2","v":4.08},{"t":"2022-06-03T05:37","ch":"2","v":3.35},{"t":"2022-06-03T06:07","ch":"2","v":1.8},{"t":"2022-06-03T06:37","ch":"2","v":-0.65},{"t":"2022-06-03T07:07","ch":"2","v":-2.98},{"t":"2022-06-03T07:37","ch":"2","v":-5.11},{"t":"2022-06-03T08:07","ch":"2","v":-5.39},{"t":"2022-06-03T08:37","ch":"2","v":-6.11},{"t":"2022-06-03T09:07","ch":"2","v":-7.77},{"t":"2022-06-03T09:37","ch":"2","v":-8.57},{"t":"2022-06-03T10:07","ch":"2","v":-9.52},
{"t":"2022-06-03T10:35","ch":"2","v":1.33},{"t":"2022-06-03T11:05","ch":"2","v":1.28},{"t":"2022-06-03T11:35","ch":"2","v":1.43},{"t":"2022-06-03T12:05","ch":"2","v":1.56},{"t":"2022-06-03T12:35","ch":"2","v":1.73},{"t":"2022-06-03T13:05","ch":"2","v":1.75},{"t":"2022-06-03T13:35","ch":"2","v":1.83},{"t":"2022-06-03T14:05","ch":"2","v":1.95},{"t":"2022-06-03T14:35","ch":"2","v":2.32},{"t":"2022-06-03T15:05","ch":"2","v":2.25},{"t":"2022-06-03T15:35","ch":"2","v":1.85},{"t":"2022-06-03T16:05","ch":"2","v":1.73},{"t":"2022-06-03T16:35","ch":"2","v":1.46},{"t":"2022-06-03T17:05","ch":"2","v":1.38},{"t":"2022-06-03T17:35","ch":"2","v":1.31},
{"t":"2022-06-03T03:11","ch":"3","v":3.47},{"t":"2022-06-03T03:41","ch":"3","v":3.47},{"t":"2022-06-03T04:11","ch":"3","v":3.27},{"t":"2022-06-03T04:41","ch":"3","v":4.03},{"t":"2022-06-03T05:11","ch":"3","v":3.5},{"t":"2022-06-03T05:41","ch":"3","v":2.6},{"t":"2022-06-03T06:11","ch":"3","v":1.25},{"t":"2022-06-03T06:41","ch":"3","v":-0.71},{"t":"2022-06-03T07:11","ch":"3","v":-3.01},{"t":"2022-06-03T07:41","ch":"3","v":-4.91},{"t":"2022-06-03T08:11","ch":"3","v":-6.27},{"t":"2022-06-03T08:41","ch":"3","v":-7.29},{"t":"2022-06-03T09:11","ch":"3","v":-7.67},{"t":"2022-06-03T09:41","ch":"3","v":-8.19},{"t":"2022-06-03T10:11","ch":"3","v":-8.99},
{"t":"2022-06-03T10:39","ch":"3","v":2.32},{"t":"2022-06-03T11:09","ch":"3","v":2.89},{"t":"2022-06-03T11:39","ch":"3","v":2.99},{"t":"2022-06-03T12:09","ch":"3","v":2.99},{"t":"2022-06-03T12:39","ch":"3","v":2.79},{"t":"2022-06-03T13:09","ch":"3","v":2.79},{"t":"2022-06-03T13:39","ch":"3","v":3.23},{"t":"2022-06-03T14:09","ch":"3","v":3.09},{"t":"2022-06-03T14:39","ch":"3","v":3.14},{"t":"2022-06-03T15:09","ch":"3","v":3.43},{"t":"2022-06-03T15:39","ch":"3","v":3.14},{"t":"2022-06-03T16:09","ch":"3","v":3.38},{"t":"2022-06-03T16:39","ch":"3","v":2.94},{"t":"2022-06-03T17:09","ch":"3","v":2.94},{"t":"2022-06-03T17:39","ch":"3","v":2.79}
],
"vlineA": [{"t":"2022-06-03T00:00"}],
"zoomA": [
{"x1":"2022-06-03T00:00","y1":-196.7,"x2":"2020-01-24T00:00","y2":-321.7},
{"x1":"2022-06-03T00:00","y1":-196.7,"x2":"2024-03-01T00:00","y2":-321.7}
],
"band": [{"x1":"2022-06-03T02:18","x2":"2022-06-03T18:22"}],
"zoomB": [
{"x1":"2022-06-03T02:18","y1":-16.95,"x2":"2022-05-29T14:42","y2":-25.43},
{"x1":"2022-06-03T18:22","y1":-16.95,"x2":"2022-06-07T07:55","y2":-25.43}
],
"blueLine": [{"x1":"2022-05-28T21:12","x2":"2022-06-08T19:21","y":-4.13}],
"markerC": [{"t":"2022-06-03T10:29"}],
"legCW": [
{"s":"ALB CON","col":1,"row":1},{"s":"ALB WIS","col":2,"row":1},
{"s":"ASD CON","col":1,"row":2},{"s":"ASD WIS","col":2,"row":2},
{"s":"ROV CON","col":1,"row":3},{"s":"ROV WIS","col":2,"row":3},
{"s":"VLI CON","col":1,"row":4},{"s":"VLI WIS","col":2,"row":4},
{"s":"ZEG CON","col":1,"row":5},{"s":"ZEG WIS","col":2,"row":5},
{"s":"LAW WIS","col":2,"row":6}
],
"legCWlab": [
{"txt":"ALB","col":2,"row":1},{"txt":"ASD","col":2,"row":2},{"txt":"ROV","col":2,"row":3},
{"txt":"VLI","col":2,"row":4},{"txt":"ZEG","col":2,"row":5},{"txt":"LAW","col":2,"row":6}
],
"legCWtitle": [{"txt":"CON - WIS","col":1,"row":0}],
"legCh": [{"ch":"1","col":1,"row":1},{"ch":"2","col":1,"row":2},{"ch":"3","col":1,"row":3}],
"legChLab": [{"txt":"1","col":1,"row":1},{"txt":"2","col":1,"row":2},{"txt":"3","col":1,"row":3}],
"legChTitle": [{"txt":"Location: ALB","col":1,"row":-1.658},{"txt":"Chamber nr.","col":1,"row":-0.151}],
"empty": []
},
"concat": [
{
"width": 1075, "height": 225,
"title": {"text": "a)", "offset": -29},
"layer": [
{"data": {"name": "vlineA"}, "mark": {"type": "rule", "color": "#D9D9D9", "strokeWidth": 1},
 "encoding": {"x": {"field": "t", "type": "temporal", "title": null}}},
{"data": {"name": "fluxA"}, "mark": {"type": "circle", "size": 36, "opacity": 1},
 "encoding": {
  "x": {"field": "t", "type": "temporal", "scale": {"domain": [{"year": 2020, "month": 1, "date": 24}, {"year": 2024, "month": 3, "date": 1}], "nice": false},
        "axis": {"title": null, "values": [{"year": 2021, "month": 1, "date": 1}, {"year": 2022, "month": 1, "date": 1}, {"year": 2023, "month": 1, "date": 1}, {"year": 2024, "month": 1, "date": 1}], "format": "%Y"}},
  "y": {"field": "v", "type": "quantitative", "scale": {"domain": [-196.7, 178.3], "nice": false, "zero": false},
        "axis": {"title": "CO₂ flux (kg CO₂−C ha⁻¹ d⁻¹)", "values": [-100, 0, 100]}},
  "color": {"field": "s", "type": "nominal", "legend": null,
   "scale": {"domain": ["ALB CON","ALB WIS","ASD CON","ASD WIS","ROV CON","ROV WIS","VLI CON","VLI WIS","ZEG CON","ZEG WIS","LAW WIS"],
             "range": ["#A50021","#E8002A","#1A8CFF","#0CBDF2","#15997A","#1EEBC8","#FF5CAE","#FFB0F0","#FF7433","#FFB833","#8A00D4"]}}}},
{"data": {"name": "zoomA"}, "mark": {"type": "rule", "clip": false, "color": "#000000", "strokeWidth": 1.5},
 "encoding": {"x": {"field": "x1", "type": "temporal"}, "x2": {"field": "x2"}, "y": {"field": "y1", "type": "quantitative"}, "y2": {"field": "y2"}}}
]
},
{
"width": 159, "height": 225,
"view": {"stroke": null},
"layer": [
{"data": {"name": "legCW"}, "mark": {"type": "circle", "size": 36, "opacity": 1},
 "encoding": {
  "x": {"field": "col", "type": "quantitative", "scale": {"domain": [-0.222, 4.194], "nice": false, "zero": false}, "axis": null},
  "y": {"field": "row", "type": "quantitative", "scale": {"domain": [-7.632, 1.56], "nice": false, "zero": false, "reverse": true}, "axis": null},
  "color": {"field": "s", "type": "nominal", "legend": null,
   "scale": {"domain": ["ALB CON","ALB WIS","ASD CON","ASD WIS","ROV CON","ROV WIS","VLI CON","VLI WIS","ZEG CON","ZEG WIS","LAW WIS"],
             "range": ["#A50021","#E8002A","#1A8CFF","#0CBDF2","#15997A","#1EEBC8","#FF5CAE","#FFB0F0","#FF7433","#FFB833","#8A00D4"]}}}},
{"data": {"name": "legCWlab"}, "mark": {"type": "text", "align": "left", "baseline": "middle", "dx": 27, "fontSize": 17.5, "font": "Liberation Sans", "color": "#1A1A1A"},
 "encoding": {"x": {"field": "col", "type": "quantitative"}, "y": {"field": "row", "type": "quantitative"}, "text": {"field": "txt"}}},
{"data": {"name": "legCWtitle"}, "mark": {"type": "text", "align": "left", "baseline": "middle", "dx": -41, "dy": -7, "fontSize": 21.5, "font": "Liberation Sans", "color": "#000000"},
 "encoding": {"x": {"field": "col", "type": "quantitative"}, "y": {"field": "row", "type": "quantitative"}, "text": {"field": "txt"}}}
]
},
{
"width": 1075, "height": 225,
"title": {"text": "b)", "offset": -14},
"layer": [
{"data": {"name": "band"}, "mark": {"type": "rect", "color": "#D9D9D9", "opacity": 1},
 "encoding": {"x": {"field": "x1", "type": "temporal", "title": null}, "x2": {"field": "x2"}}},
{"data": {"name": "fluxB"}, "mark": {"type": "circle", "size": 36, "opacity": 1},
 "encoding": {
  "x": {"field": "t", "type": "temporal", "scale": {"domain": [{"year": 2022, "month": 5, "date": 29, "hours": 14, "minutes": 42}, {"year": 2022, "month": 6, "date": 7, "hours": 7, "minutes": 55}], "nice": false},
        "axis": {"title": null, "values": [{"year": 2022, "month": 5, "date": 31}, {"year": 2022, "month": 6, "date": 2}, {"year": 2022, "month": 6, "date": 4}, {"year": 2022, "month": 6, "date": 6}], "format": "%b %d"}},
  "y": {"field": "v", "type": "quantitative", "scale": {"domain": [-16.95, 8.5], "nice": false, "zero": false},
        "axis": {"title": "CO₂ flux (kg CO₂−C ha⁻¹ h⁻¹)", "values": [-15, -10, -5, 0, 5]}},
  "color": {"field": "s", "type": "nominal", "legend": null,
   "scale": {"domain": ["ALB CON","ALB WIS","ASD CON","ASD WIS","ROV CON","ROV WIS","VLI CON","VLI WIS","ZEG CON","ZEG WIS","LAW WIS"],
             "range": ["#A50021","#E8002A","#1A8CFF","#0CBDF2","#15997A","#1EEBC8","#FF5CAE","#FFB0F0","#FF7433","#FFB833","#8A00D4"]}}}},
{"data": {"name": "zoomB"}, "mark": {"type": "rule", "clip": false, "color": "#000000", "strokeWidth": 1.5},
 "encoding": {"x": {"field": "x1", "type": "temporal"}, "x2": {"field": "x2"}, "y": {"field": "y1", "type": "quantitative"}, "y2": {"field": "y2"}}},
{"data": {"name": "blueLine"}, "mark": {"type": "rule", "clip": false, "color": "#0B6FC1", "strokeWidth": 4},
 "encoding": {"x": {"field": "x1", "type": "temporal"}, "x2": {"field": "x2"}, "y": {"field": "y", "type": "quantitative"}}}
]
},
{
"width": 159, "height": 225,
"view": {"stroke": null},
"data": {"name": "empty"},
"mark": {"type": "point"},
"encoding": {}
},
{
"width": 1075, "height": 225,
"title": {"text": "c)", "offset": -28},
"layer": [
{"data": {"name": "markerC"}, "mark": {"type": "rule", "color": "#000000", "strokeWidth": 2.5, "strokeDash": [2.5, 10]},
 "encoding": {"x": {"field": "t", "type": "temporal", "title": null}}},
{"data": {"name": "fluxC"}, "mark": {"type": "circle", "size": 38, "opacity": 1},
 "encoding": {
  "x": {"field": "t", "type": "temporal", "scale": {"domain": [{"year": 2022, "month": 6, "date": 3, "hours": 2, "minutes": 18}, {"year": 2022, "month": 6, "date": 3, "hours": 18, "minutes": 22}], "nice": false},
        "axis": {"title": null, "values": [{"year": 2022, "month": 6, "date": 3, "hours": 6}, {"year": 2022, "month": 6, "date": 3, "hours": 12}, {"year": 2022, "month": 6, "date": 3, "hours": 18}], "format": "%b %d %H:%M"}},
  "y": {"field": "v", "type": "quantitative", "scale": {"domain": [-12.08, 4.82], "nice": false, "zero": false},
        "axis": {"title": "CO₂ flux (kg CO₂−C ha⁻¹ h⁻¹)", "values": [-12, -8, -4, 0, 4]}},
  "color": {"field": "ch", "type": "nominal", "legend": null,
   "scale": {"domain": ["1","2","3"], "range": ["#D81B60","#1E88E5","#FFC107"]}}}}
]
},
{
"width": 159, "height": 225,
"view": {"stroke": null},
"layer": [
{"data": {"name": "legCh"}, "mark": {"type": "circle", "size": 90, "opacity": 1},
 "encoding": {
  "x": {"field": "col", "type": "quantitative", "scale": {"domain": [0.389, 4.806], "nice": false, "zero": false}, "axis": null},
  "y": {"field": "row", "type": "quantitative", "scale": {"domain": [-2.47, 4.052], "nice": false, "zero": false, "reverse": true}, "axis": null},
  "color": {"field": "ch", "type": "nominal", "legend": null, "scale": {"domain": ["1","2","3"], "range": ["#D81B60","#1E88E5","#FFC107"]}}}},
{"data": {"name": "legChLab"}, "mark": {"type": "text", "align": "left", "baseline": "middle", "dx": 26, "fontSize": 17.5, "font": "Liberation Sans", "color": "#1A1A1A"},
 "encoding": {"x": {"field": "col", "type": "quantitative"}, "y": {"field": "row", "type": "quantitative"}, "text": {"field": "txt"}}},
{"data": {"name": "legChTitle"}, "mark": {"type": "text", "align": "left", "baseline": "middle", "dx": -16, "fontSize": 21.5, "font": "Liberation Sans", "color": "#000000"},
 "encoding": {"x": {"field": "col", "type": "quantitative"}, "y": {"field": "row", "type": "quantitative"}, "text": {"field": "txt"}}}
]
}
],
"columns": 2,
"spacing": {"row": 75, "column": 30},
"bounds": "flush",
"resolve": {"scale": {"x": "independent", "y": "independent", "color": "independent"}},
"config": {
"view": {"stroke": "#000000", "strokeWidth": 1.6},
"font": "Liberation Sans",
"axis": {"grid": false, "domain": false, "labelFont": "Liberation Sans", "labelFontSize": 17, "labelColor": "#4D4D4D", "tickColor": "#333333", "tickSize": 5, "tickWidth": 1.1, "labelPadding": 3, "titleFont": "Liberation Sans", "titleFontSize": 21.5, "titleFontWeight": "normal", "titleColor": "#000000", "labelFlush": false, "labelOverlap": false},
"axisX": {"labelPadding": 7},
"axisY": {"titleX": -71, "titleBaseline": "middle"},
"title": {"fontSize": 19, "fontWeight": "normal", "anchor": "start", "frame": "group", "dx": -43, "baseline": "alphabetic", "color": "#000000"},
"legend": {"disable": true}
}
}
